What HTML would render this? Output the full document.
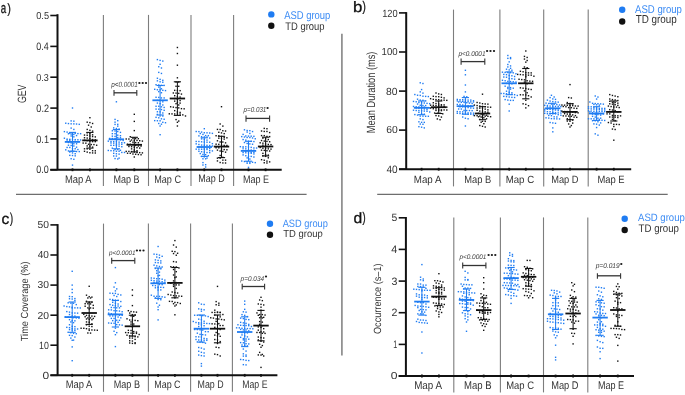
<!DOCTYPE html>
<html><head><meta charset="utf-8"><style>
html,body{margin:0;padding:0;background:#fff;}
svg{display:block;font-family:"Liberation Sans", sans-serif;will-change:transform;text-rendering:geometricPrecision;}
</style></head><body>
<svg width="685" height="395" viewBox="0 0 685 395">
<rect x="0" y="0" width="685" height="395" fill="#fff"/>
<line x1="103.40" y1="14.90" x2="103.40" y2="186.00" stroke="#7d7d7d" stroke-width="1.1"/>
<line x1="148.50" y1="14.90" x2="148.50" y2="186.00" stroke="#7d7d7d" stroke-width="1.1"/>
<line x1="191.00" y1="14.90" x2="191.00" y2="186.00" stroke="#7d7d7d" stroke-width="1.1"/>
<line x1="233.60" y1="14.90" x2="233.60" y2="186.00" stroke="#7d7d7d" stroke-width="1.1"/>
<line x1="57.50" y1="14.20" x2="57.50" y2="169.80" stroke="#111" stroke-width="2"/>
<line x1="50.30" y1="169.80" x2="281.70" y2="169.80" stroke="#111" stroke-width="2"/>
<line x1="50.30" y1="15.50" x2="57.50" y2="15.50" stroke="#111" stroke-width="1.6"/>
<line x1="50.30" y1="46.40" x2="57.50" y2="46.40" stroke="#111" stroke-width="1.6"/>
<line x1="50.30" y1="77.20" x2="57.50" y2="77.20" stroke="#111" stroke-width="1.6"/>
<line x1="50.30" y1="108.10" x2="57.50" y2="108.10" stroke="#111" stroke-width="1.6"/>
<line x1="50.30" y1="138.90" x2="57.50" y2="138.90" stroke="#111" stroke-width="1.6"/>
<line x1="50.30" y1="169.80" x2="57.50" y2="169.80" stroke="#111" stroke-width="1.6"/>
<line x1="72.50" y1="168.40" x2="72.50" y2="171.20" stroke="#111" stroke-width="1.8"/>
<line x1="89.90" y1="168.40" x2="89.90" y2="171.20" stroke="#111" stroke-width="1.8"/>
<line x1="116.40" y1="168.40" x2="116.40" y2="171.20" stroke="#111" stroke-width="1.8"/>
<line x1="134.30" y1="168.40" x2="134.30" y2="171.20" stroke="#111" stroke-width="1.8"/>
<line x1="160.10" y1="168.40" x2="160.10" y2="171.20" stroke="#111" stroke-width="1.8"/>
<line x1="177.40" y1="168.40" x2="177.40" y2="171.20" stroke="#111" stroke-width="1.8"/>
<line x1="204.30" y1="168.40" x2="204.30" y2="171.20" stroke="#111" stroke-width="1.8"/>
<line x1="221.50" y1="168.40" x2="221.50" y2="171.20" stroke="#111" stroke-width="1.8"/>
<line x1="248.50" y1="168.40" x2="248.50" y2="171.20" stroke="#111" stroke-width="1.8"/>
<line x1="265.60" y1="168.40" x2="265.60" y2="171.20" stroke="#111" stroke-width="1.8"/>
<circle cx="271.3" cy="14.4" r="3.2" fill="#1f7cf2"/>
<circle cx="271.3" cy="25.7" r="3.2" fill="#111"/>
<line x1="453.50" y1="9.60" x2="453.50" y2="186.40" stroke="#7d7d7d" stroke-width="1.1"/>
<line x1="499.90" y1="9.60" x2="499.90" y2="186.40" stroke="#7d7d7d" stroke-width="1.1"/>
<line x1="543.70" y1="9.60" x2="543.70" y2="186.40" stroke="#7d7d7d" stroke-width="1.1"/>
<line x1="588.20" y1="9.60" x2="588.20" y2="186.40" stroke="#7d7d7d" stroke-width="1.1"/>
<line x1="406.20" y1="12.10" x2="406.20" y2="169.20" stroke="#111" stroke-width="2"/>
<line x1="399.00" y1="169.20" x2="631.20" y2="169.20" stroke="#111" stroke-width="2"/>
<line x1="399.00" y1="12.90" x2="406.20" y2="12.90" stroke="#111" stroke-width="1.6"/>
<line x1="399.00" y1="52.00" x2="406.20" y2="52.00" stroke="#111" stroke-width="1.6"/>
<line x1="399.00" y1="91.10" x2="406.20" y2="91.10" stroke="#111" stroke-width="1.6"/>
<line x1="399.00" y1="130.10" x2="406.20" y2="130.10" stroke="#111" stroke-width="1.6"/>
<line x1="399.00" y1="169.20" x2="406.20" y2="169.20" stroke="#111" stroke-width="1.6"/>
<line x1="421.60" y1="167.80" x2="421.60" y2="170.60" stroke="#111" stroke-width="1.8"/>
<line x1="438.70" y1="167.80" x2="438.70" y2="170.60" stroke="#111" stroke-width="1.8"/>
<line x1="465.40" y1="167.80" x2="465.40" y2="170.60" stroke="#111" stroke-width="1.8"/>
<line x1="482.50" y1="167.80" x2="482.50" y2="170.60" stroke="#111" stroke-width="1.8"/>
<line x1="509.20" y1="167.80" x2="509.20" y2="170.60" stroke="#111" stroke-width="1.8"/>
<line x1="525.80" y1="167.80" x2="525.80" y2="170.60" stroke="#111" stroke-width="1.8"/>
<line x1="552.80" y1="167.80" x2="552.80" y2="170.60" stroke="#111" stroke-width="1.8"/>
<line x1="570.00" y1="167.80" x2="570.00" y2="170.60" stroke="#111" stroke-width="1.8"/>
<line x1="596.60" y1="167.80" x2="596.60" y2="170.60" stroke="#111" stroke-width="1.8"/>
<line x1="613.80" y1="167.80" x2="613.80" y2="170.60" stroke="#111" stroke-width="1.8"/>
<circle cx="622.2" cy="9.7" r="3.2" fill="#1f7cf2"/>
<circle cx="622.2" cy="21.5" r="3.2" fill="#111"/>
<line x1="103.50" y1="223.60" x2="103.50" y2="391.80" stroke="#7d7d7d" stroke-width="1.1"/>
<line x1="148.40" y1="223.60" x2="148.40" y2="391.80" stroke="#7d7d7d" stroke-width="1.1"/>
<line x1="190.60" y1="223.60" x2="190.60" y2="391.80" stroke="#7d7d7d" stroke-width="1.1"/>
<line x1="232.40" y1="223.60" x2="232.40" y2="391.80" stroke="#7d7d7d" stroke-width="1.1"/>
<line x1="57.60" y1="224.10" x2="57.60" y2="375.30" stroke="#111" stroke-width="2"/>
<line x1="50.40" y1="375.30" x2="277.40" y2="375.30" stroke="#111" stroke-width="2"/>
<line x1="50.40" y1="224.90" x2="57.60" y2="224.90" stroke="#111" stroke-width="1.6"/>
<line x1="50.40" y1="255.00" x2="57.60" y2="255.00" stroke="#111" stroke-width="1.6"/>
<line x1="50.40" y1="285.10" x2="57.60" y2="285.10" stroke="#111" stroke-width="1.6"/>
<line x1="50.40" y1="315.20" x2="57.60" y2="315.20" stroke="#111" stroke-width="1.6"/>
<line x1="50.40" y1="345.20" x2="57.60" y2="345.20" stroke="#111" stroke-width="1.6"/>
<line x1="50.40" y1="375.30" x2="57.60" y2="375.30" stroke="#111" stroke-width="1.6"/>
<line x1="72.20" y1="373.90" x2="72.20" y2="376.70" stroke="#111" stroke-width="1.8"/>
<line x1="89.20" y1="373.90" x2="89.20" y2="376.70" stroke="#111" stroke-width="1.8"/>
<line x1="115.40" y1="373.90" x2="115.40" y2="376.70" stroke="#111" stroke-width="1.8"/>
<line x1="132.40" y1="373.90" x2="132.40" y2="376.70" stroke="#111" stroke-width="1.8"/>
<line x1="158.10" y1="373.90" x2="158.10" y2="376.70" stroke="#111" stroke-width="1.8"/>
<line x1="174.90" y1="373.90" x2="174.90" y2="376.70" stroke="#111" stroke-width="1.8"/>
<line x1="201.40" y1="373.90" x2="201.40" y2="376.70" stroke="#111" stroke-width="1.8"/>
<line x1="217.50" y1="373.90" x2="217.50" y2="376.70" stroke="#111" stroke-width="1.8"/>
<line x1="244.70" y1="373.90" x2="244.70" y2="376.70" stroke="#111" stroke-width="1.8"/>
<line x1="261.00" y1="373.90" x2="261.00" y2="376.70" stroke="#111" stroke-width="1.8"/>
<circle cx="270.0" cy="223.8" r="3.2" fill="#1f7cf2"/>
<circle cx="270.0" cy="234.8" r="3.2" fill="#111"/>
<line x1="453.80" y1="217.40" x2="453.80" y2="392.40" stroke="#7d7d7d" stroke-width="1.1"/>
<line x1="500.40" y1="217.40" x2="500.40" y2="392.40" stroke="#7d7d7d" stroke-width="1.1"/>
<line x1="543.50" y1="217.40" x2="543.50" y2="392.40" stroke="#7d7d7d" stroke-width="1.1"/>
<line x1="587.80" y1="217.40" x2="587.80" y2="392.40" stroke="#7d7d7d" stroke-width="1.1"/>
<line x1="405.90" y1="217.00" x2="405.90" y2="376.00" stroke="#111" stroke-width="2"/>
<line x1="398.70" y1="376.00" x2="634.00" y2="376.00" stroke="#111" stroke-width="2"/>
<line x1="398.70" y1="217.80" x2="405.90" y2="217.80" stroke="#111" stroke-width="1.6"/>
<line x1="398.70" y1="249.40" x2="405.90" y2="249.40" stroke="#111" stroke-width="1.6"/>
<line x1="398.70" y1="281.10" x2="405.90" y2="281.10" stroke="#111" stroke-width="1.6"/>
<line x1="398.70" y1="312.70" x2="405.90" y2="312.70" stroke="#111" stroke-width="1.6"/>
<line x1="398.70" y1="344.40" x2="405.90" y2="344.40" stroke="#111" stroke-width="1.6"/>
<line x1="398.70" y1="376.00" x2="405.90" y2="376.00" stroke="#111" stroke-width="1.6"/>
<line x1="421.90" y1="374.60" x2="421.90" y2="377.40" stroke="#111" stroke-width="1.8"/>
<line x1="438.90" y1="374.60" x2="438.90" y2="377.40" stroke="#111" stroke-width="1.8"/>
<line x1="466.50" y1="374.60" x2="466.50" y2="377.40" stroke="#111" stroke-width="1.8"/>
<line x1="483.70" y1="374.60" x2="483.70" y2="377.40" stroke="#111" stroke-width="1.8"/>
<line x1="511.10" y1="374.60" x2="511.10" y2="377.40" stroke="#111" stroke-width="1.8"/>
<line x1="528.60" y1="374.60" x2="528.60" y2="377.40" stroke="#111" stroke-width="1.8"/>
<line x1="555.60" y1="374.60" x2="555.60" y2="377.40" stroke="#111" stroke-width="1.8"/>
<line x1="573.10" y1="374.60" x2="573.10" y2="377.40" stroke="#111" stroke-width="1.8"/>
<line x1="600.10" y1="374.60" x2="600.10" y2="377.40" stroke="#111" stroke-width="1.8"/>
<line x1="617.80" y1="374.60" x2="617.80" y2="377.40" stroke="#111" stroke-width="1.8"/>
<circle cx="624.7" cy="218.8" r="3.2" fill="#1f7cf2"/>
<circle cx="624.7" cy="230.0" r="3.2" fill="#111"/>
<g fill="#1f7cf2"><rect x="71.80" y="107.30" width="1.4" height="1.4"/><rect x="70.45" y="120.20" width="1.4" height="1.4"/><rect x="73.15" y="120.46" width="1.4" height="1.4"/><rect x="65.05" y="122.52" width="1.4" height="1.4"/><rect x="67.75" y="122.88" width="1.4" height="1.4"/><rect x="70.45" y="123.13" width="1.4" height="1.4"/><rect x="73.15" y="123.19" width="1.4" height="1.4"/><rect x="75.85" y="123.32" width="1.4" height="1.4"/><rect x="78.55" y="123.64" width="1.4" height="1.4"/><rect x="70.45" y="127.40" width="1.4" height="1.4"/><rect x="73.15" y="128.73" width="1.4" height="1.4"/><rect x="63.70" y="130.92" width="1.4" height="1.4"/><rect x="66.40" y="131.41" width="1.4" height="1.4"/><rect x="69.10" y="132.51" width="1.4" height="1.4"/><rect x="71.80" y="132.58" width="1.4" height="1.4"/><rect x="74.50" y="132.68" width="1.4" height="1.4"/><rect x="77.20" y="132.92" width="1.4" height="1.4"/><rect x="79.90" y="132.99" width="1.4" height="1.4"/><rect x="67.75" y="133.07" width="1.4" height="1.4"/><rect x="70.45" y="133.39" width="1.4" height="1.4"/><rect x="73.15" y="133.79" width="1.4" height="1.4"/><rect x="75.85" y="134.88" width="1.4" height="1.4"/><rect x="70.45" y="135.29" width="1.4" height="1.4"/><rect x="73.15" y="136.15" width="1.4" height="1.4"/><rect x="63.70" y="137.52" width="1.4" height="1.4"/><rect x="66.40" y="138.43" width="1.4" height="1.4"/><rect x="69.10" y="138.64" width="1.4" height="1.4"/><rect x="71.80" y="138.64" width="1.4" height="1.4"/><rect x="74.50" y="138.93" width="1.4" height="1.4"/><rect x="77.20" y="139.06" width="1.4" height="1.4"/><rect x="79.90" y="139.27" width="1.4" height="1.4"/><rect x="66.40" y="139.38" width="1.4" height="1.4"/><rect x="69.10" y="139.65" width="1.4" height="1.4"/><rect x="71.80" y="140.60" width="1.4" height="1.4"/><rect x="74.50" y="140.61" width="1.4" height="1.4"/><rect x="77.20" y="140.86" width="1.4" height="1.4"/><rect x="67.75" y="141.81" width="1.4" height="1.4"/><rect x="70.45" y="142.21" width="1.4" height="1.4"/><rect x="73.15" y="143.04" width="1.4" height="1.4"/><rect x="75.85" y="143.07" width="1.4" height="1.4"/><rect x="67.75" y="144.52" width="1.4" height="1.4"/><rect x="70.45" y="144.77" width="1.4" height="1.4"/><rect x="73.15" y="145.29" width="1.4" height="1.4"/><rect x="75.85" y="146.46" width="1.4" height="1.4"/><rect x="66.40" y="146.76" width="1.4" height="1.4"/><rect x="69.10" y="146.77" width="1.4" height="1.4"/><rect x="71.80" y="148.00" width="1.4" height="1.4"/><rect x="74.50" y="148.05" width="1.4" height="1.4"/><rect x="77.20" y="148.84" width="1.4" height="1.4"/><rect x="65.05" y="149.13" width="1.4" height="1.4"/><rect x="67.75" y="150.24" width="1.4" height="1.4"/><rect x="70.45" y="150.45" width="1.4" height="1.4"/><rect x="73.15" y="150.51" width="1.4" height="1.4"/><rect x="75.85" y="150.83" width="1.4" height="1.4"/><rect x="78.55" y="150.87" width="1.4" height="1.4"/><rect x="69.10" y="151.34" width="1.4" height="1.4"/><rect x="71.80" y="152.23" width="1.4" height="1.4"/><rect x="74.50" y="153.03" width="1.4" height="1.4"/><rect x="69.10" y="154.67" width="1.4" height="1.4"/><rect x="71.80" y="154.81" width="1.4" height="1.4"/><rect x="74.50" y="155.13" width="1.4" height="1.4"/><rect x="70.45" y="158.04" width="1.4" height="1.4"/><rect x="73.15" y="158.60" width="1.4" height="1.4"/><rect x="71.80" y="164.40" width="1.4" height="1.4"/></g><g stroke="#1f7cf2"><line x1="64.80" y1="141.90" x2="80.20" y2="141.90" stroke-width="1.8"/><line x1="72.50" y1="132.40" x2="72.50" y2="151.30" stroke-width="1"/><line x1="68.90" y1="132.40" x2="76.10" y2="132.40" stroke-width="1.1"/><line x1="68.90" y1="151.30" x2="76.10" y2="151.30" stroke-width="1.1"/></g>
<g fill="#111"><rect x="89.20" y="117.00" width="1.4" height="1.4"/><rect x="86.50" y="121.47" width="1.4" height="1.4"/><rect x="89.20" y="121.89" width="1.4" height="1.4"/><rect x="91.90" y="122.78" width="1.4" height="1.4"/><rect x="87.85" y="124.50" width="1.4" height="1.4"/><rect x="90.55" y="126.29" width="1.4" height="1.4"/><rect x="86.50" y="128.74" width="1.4" height="1.4"/><rect x="89.20" y="129.59" width="1.4" height="1.4"/><rect x="91.90" y="130.42" width="1.4" height="1.4"/><rect x="86.50" y="132.14" width="1.4" height="1.4"/><rect x="89.20" y="133.05" width="1.4" height="1.4"/><rect x="91.90" y="134.12" width="1.4" height="1.4"/><rect x="83.80" y="134.38" width="1.4" height="1.4"/><rect x="86.50" y="134.55" width="1.4" height="1.4"/><rect x="89.20" y="135.25" width="1.4" height="1.4"/><rect x="91.90" y="135.88" width="1.4" height="1.4"/><rect x="94.60" y="136.20" width="1.4" height="1.4"/><rect x="83.80" y="137.05" width="1.4" height="1.4"/><rect x="86.50" y="137.37" width="1.4" height="1.4"/><rect x="89.20" y="137.82" width="1.4" height="1.4"/><rect x="91.90" y="138.83" width="1.4" height="1.4"/><rect x="94.60" y="139.17" width="1.4" height="1.4"/><rect x="83.80" y="139.57" width="1.4" height="1.4"/><rect x="86.50" y="139.93" width="1.4" height="1.4"/><rect x="89.20" y="140.38" width="1.4" height="1.4"/><rect x="91.90" y="140.93" width="1.4" height="1.4"/><rect x="94.60" y="140.94" width="1.4" height="1.4"/><rect x="82.45" y="142.35" width="1.4" height="1.4"/><rect x="85.15" y="142.46" width="1.4" height="1.4"/><rect x="87.85" y="143.58" width="1.4" height="1.4"/><rect x="90.55" y="143.86" width="1.4" height="1.4"/><rect x="93.25" y="143.89" width="1.4" height="1.4"/><rect x="95.95" y="144.55" width="1.4" height="1.4"/><rect x="86.50" y="145.22" width="1.4" height="1.4"/><rect x="89.20" y="145.41" width="1.4" height="1.4"/><rect x="91.90" y="146.44" width="1.4" height="1.4"/><rect x="83.80" y="148.10" width="1.4" height="1.4"/><rect x="86.50" y="148.16" width="1.4" height="1.4"/><rect x="89.20" y="148.58" width="1.4" height="1.4"/><rect x="91.90" y="150.04" width="1.4" height="1.4"/><rect x="94.60" y="150.10" width="1.4" height="1.4"/><rect x="83.80" y="150.59" width="1.4" height="1.4"/><rect x="86.50" y="151.40" width="1.4" height="1.4"/><rect x="89.20" y="152.05" width="1.4" height="1.4"/><rect x="91.90" y="152.23" width="1.4" height="1.4"/><rect x="94.60" y="152.30" width="1.4" height="1.4"/></g><g stroke="#111"><line x1="82.20" y1="140.40" x2="97.60" y2="140.40" stroke-width="1.8"/><line x1="89.90" y1="132.40" x2="89.90" y2="148.10" stroke-width="1"/><line x1="86.30" y1="132.40" x2="93.50" y2="132.40" stroke-width="1.1"/><line x1="86.30" y1="148.10" x2="93.50" y2="148.10" stroke-width="1.1"/></g>
<g fill="#1f7cf2"><rect x="115.70" y="101.10" width="1.4" height="1.4"/><rect x="114.35" y="118.70" width="1.4" height="1.4"/><rect x="117.05" y="119.99" width="1.4" height="1.4"/><rect x="114.35" y="121.46" width="1.4" height="1.4"/><rect x="117.05" y="123.64" width="1.4" height="1.4"/><rect x="114.35" y="123.73" width="1.4" height="1.4"/><rect x="117.05" y="125.44" width="1.4" height="1.4"/><rect x="113.00" y="127.20" width="1.4" height="1.4"/><rect x="115.70" y="127.81" width="1.4" height="1.4"/><rect x="118.40" y="128.31" width="1.4" height="1.4"/><rect x="111.65" y="130.08" width="1.4" height="1.4"/><rect x="114.35" y="130.28" width="1.4" height="1.4"/><rect x="117.05" y="130.87" width="1.4" height="1.4"/><rect x="119.75" y="131.69" width="1.4" height="1.4"/><rect x="111.65" y="132.98" width="1.4" height="1.4"/><rect x="114.35" y="132.99" width="1.4" height="1.4"/><rect x="117.05" y="134.45" width="1.4" height="1.4"/><rect x="119.75" y="135.00" width="1.4" height="1.4"/><rect x="111.65" y="135.45" width="1.4" height="1.4"/><rect x="114.35" y="135.70" width="1.4" height="1.4"/><rect x="117.05" y="136.84" width="1.4" height="1.4"/><rect x="119.75" y="137.07" width="1.4" height="1.4"/><rect x="108.95" y="137.77" width="1.4" height="1.4"/><rect x="111.65" y="137.84" width="1.4" height="1.4"/><rect x="114.35" y="137.93" width="1.4" height="1.4"/><rect x="117.05" y="138.77" width="1.4" height="1.4"/><rect x="119.75" y="139.20" width="1.4" height="1.4"/><rect x="122.45" y="139.77" width="1.4" height="1.4"/><rect x="107.60" y="140.45" width="1.4" height="1.4"/><rect x="110.30" y="140.87" width="1.4" height="1.4"/><rect x="113.00" y="140.89" width="1.4" height="1.4"/><rect x="115.70" y="141.06" width="1.4" height="1.4"/><rect x="118.40" y="141.42" width="1.4" height="1.4"/><rect x="121.10" y="142.03" width="1.4" height="1.4"/><rect x="123.80" y="142.05" width="1.4" height="1.4"/><rect x="110.30" y="142.29" width="1.4" height="1.4"/><rect x="113.00" y="142.41" width="1.4" height="1.4"/><rect x="115.70" y="143.34" width="1.4" height="1.4"/><rect x="118.40" y="143.34" width="1.4" height="1.4"/><rect x="121.10" y="143.65" width="1.4" height="1.4"/><rect x="110.30" y="144.61" width="1.4" height="1.4"/><rect x="113.00" y="144.62" width="1.4" height="1.4"/><rect x="115.70" y="144.77" width="1.4" height="1.4"/><rect x="118.40" y="145.47" width="1.4" height="1.4"/><rect x="121.10" y="146.02" width="1.4" height="1.4"/><rect x="111.65" y="147.48" width="1.4" height="1.4"/><rect x="114.35" y="148.80" width="1.4" height="1.4"/><rect x="117.05" y="148.84" width="1.4" height="1.4"/><rect x="119.75" y="149.60" width="1.4" height="1.4"/><rect x="107.60" y="149.77" width="1.4" height="1.4"/><rect x="110.30" y="149.98" width="1.4" height="1.4"/><rect x="113.00" y="150.09" width="1.4" height="1.4"/><rect x="115.70" y="150.56" width="1.4" height="1.4"/><rect x="118.40" y="150.56" width="1.4" height="1.4"/><rect x="121.10" y="151.75" width="1.4" height="1.4"/><rect x="123.80" y="151.77" width="1.4" height="1.4"/><rect x="113.00" y="152.61" width="1.4" height="1.4"/><rect x="115.70" y="153.04" width="1.4" height="1.4"/><rect x="118.40" y="153.42" width="1.4" height="1.4"/><rect x="113.00" y="155.29" width="1.4" height="1.4"/><rect x="115.70" y="155.35" width="1.4" height="1.4"/><rect x="118.40" y="157.42" width="1.4" height="1.4"/><rect x="114.35" y="157.86" width="1.4" height="1.4"/><rect x="117.05" y="158.30" width="1.4" height="1.4"/></g><g stroke="#1f7cf2"><line x1="108.70" y1="139.30" x2="124.10" y2="139.30" stroke-width="1.8"/><line x1="116.40" y1="129.60" x2="116.40" y2="148.80" stroke-width="1"/><line x1="112.80" y1="129.60" x2="120.00" y2="129.60" stroke-width="1.1"/><line x1="112.80" y1="148.80" x2="120.00" y2="148.80" stroke-width="1.1"/></g>
<g fill="#111"><rect x="133.60" y="113.60" width="1.4" height="1.4"/><rect x="133.60" y="120.70" width="1.4" height="1.4"/><rect x="133.60" y="129.90" width="1.4" height="1.4"/><rect x="129.55" y="136.00" width="1.4" height="1.4"/><rect x="132.25" y="137.52" width="1.4" height="1.4"/><rect x="134.95" y="137.94" width="1.4" height="1.4"/><rect x="137.65" y="138.00" width="1.4" height="1.4"/><rect x="125.50" y="138.28" width="1.4" height="1.4"/><rect x="128.20" y="138.34" width="1.4" height="1.4"/><rect x="130.90" y="139.30" width="1.4" height="1.4"/><rect x="133.60" y="139.63" width="1.4" height="1.4"/><rect x="136.30" y="139.72" width="1.4" height="1.4"/><rect x="139.00" y="140.01" width="1.4" height="1.4"/><rect x="141.70" y="140.39" width="1.4" height="1.4"/><rect x="129.55" y="140.52" width="1.4" height="1.4"/><rect x="132.25" y="141.48" width="1.4" height="1.4"/><rect x="134.95" y="141.89" width="1.4" height="1.4"/><rect x="137.65" y="142.05" width="1.4" height="1.4"/><rect x="126.85" y="143.49" width="1.4" height="1.4"/><rect x="129.55" y="143.58" width="1.4" height="1.4"/><rect x="132.25" y="143.79" width="1.4" height="1.4"/><rect x="134.95" y="144.77" width="1.4" height="1.4"/><rect x="137.65" y="145.31" width="1.4" height="1.4"/><rect x="140.35" y="145.35" width="1.4" height="1.4"/><rect x="128.20" y="145.82" width="1.4" height="1.4"/><rect x="130.90" y="146.01" width="1.4" height="1.4"/><rect x="133.60" y="146.43" width="1.4" height="1.4"/><rect x="136.30" y="147.00" width="1.4" height="1.4"/><rect x="139.00" y="147.37" width="1.4" height="1.4"/><rect x="130.90" y="148.17" width="1.4" height="1.4"/><rect x="133.60" y="149.31" width="1.4" height="1.4"/><rect x="136.30" y="149.97" width="1.4" height="1.4"/><rect x="125.50" y="150.70" width="1.4" height="1.4"/><rect x="128.20" y="150.70" width="1.4" height="1.4"/><rect x="130.90" y="150.84" width="1.4" height="1.4"/><rect x="133.60" y="151.33" width="1.4" height="1.4"/><rect x="136.30" y="151.77" width="1.4" height="1.4"/><rect x="139.00" y="151.93" width="1.4" height="1.4"/><rect x="141.70" y="152.19" width="1.4" height="1.4"/><rect x="126.85" y="152.55" width="1.4" height="1.4"/><rect x="129.55" y="152.61" width="1.4" height="1.4"/><rect x="132.25" y="153.31" width="1.4" height="1.4"/><rect x="134.95" y="153.56" width="1.4" height="1.4"/><rect x="137.65" y="153.84" width="1.4" height="1.4"/><rect x="140.35" y="154.05" width="1.4" height="1.4"/><rect x="133.60" y="156.30" width="1.4" height="1.4"/></g><g stroke="#111"><line x1="126.60" y1="144.80" x2="142.00" y2="144.80" stroke-width="1.8"/><line x1="134.30" y1="137.30" x2="134.30" y2="151.90" stroke-width="1"/><line x1="130.70" y1="137.30" x2="137.90" y2="137.30" stroke-width="1.1"/><line x1="130.70" y1="151.90" x2="137.90" y2="151.90" stroke-width="1.1"/></g>
<g fill="#1f7cf2"><rect x="156.70" y="58.90" width="1.4" height="1.4"/><rect x="159.40" y="59.71" width="1.4" height="1.4"/><rect x="162.10" y="60.38" width="1.4" height="1.4"/><rect x="159.40" y="63.62" width="1.4" height="1.4"/><rect x="158.05" y="66.03" width="1.4" height="1.4"/><rect x="160.75" y="67.30" width="1.4" height="1.4"/><rect x="158.05" y="71.71" width="1.4" height="1.4"/><rect x="160.75" y="72.74" width="1.4" height="1.4"/><rect x="156.70" y="77.57" width="1.4" height="1.4"/><rect x="159.40" y="78.68" width="1.4" height="1.4"/><rect x="162.10" y="79.61" width="1.4" height="1.4"/><rect x="156.70" y="80.13" width="1.4" height="1.4"/><rect x="159.40" y="81.11" width="1.4" height="1.4"/><rect x="162.10" y="81.55" width="1.4" height="1.4"/><rect x="155.35" y="84.01" width="1.4" height="1.4"/><rect x="158.05" y="84.29" width="1.4" height="1.4"/><rect x="160.75" y="84.64" width="1.4" height="1.4"/><rect x="163.45" y="84.71" width="1.4" height="1.4"/><rect x="158.05" y="86.38" width="1.4" height="1.4"/><rect x="160.75" y="88.10" width="1.4" height="1.4"/><rect x="154.00" y="88.60" width="1.4" height="1.4"/><rect x="156.70" y="89.07" width="1.4" height="1.4"/><rect x="159.40" y="89.20" width="1.4" height="1.4"/><rect x="162.10" y="89.61" width="1.4" height="1.4"/><rect x="164.80" y="89.90" width="1.4" height="1.4"/><rect x="158.05" y="90.94" width="1.4" height="1.4"/><rect x="160.75" y="92.02" width="1.4" height="1.4"/><rect x="155.35" y="96.58" width="1.4" height="1.4"/><rect x="158.05" y="96.72" width="1.4" height="1.4"/><rect x="160.75" y="97.22" width="1.4" height="1.4"/><rect x="163.45" y="97.24" width="1.4" height="1.4"/><rect x="156.70" y="99.67" width="1.4" height="1.4"/><rect x="159.40" y="99.86" width="1.4" height="1.4"/><rect x="162.10" y="101.12" width="1.4" height="1.4"/><rect x="156.70" y="102.35" width="1.4" height="1.4"/><rect x="159.40" y="102.96" width="1.4" height="1.4"/><rect x="162.10" y="104.31" width="1.4" height="1.4"/><rect x="155.35" y="105.57" width="1.4" height="1.4"/><rect x="158.05" y="105.57" width="1.4" height="1.4"/><rect x="160.75" y="106.13" width="1.4" height="1.4"/><rect x="163.45" y="106.76" width="1.4" height="1.4"/><rect x="155.35" y="108.38" width="1.4" height="1.4"/><rect x="158.05" y="108.47" width="1.4" height="1.4"/><rect x="160.75" y="108.85" width="1.4" height="1.4"/><rect x="163.45" y="109.61" width="1.4" height="1.4"/><rect x="156.70" y="111.07" width="1.4" height="1.4"/><rect x="159.40" y="111.17" width="1.4" height="1.4"/><rect x="162.10" y="112.28" width="1.4" height="1.4"/><rect x="156.70" y="113.71" width="1.4" height="1.4"/><rect x="159.40" y="115.25" width="1.4" height="1.4"/><rect x="162.10" y="115.31" width="1.4" height="1.4"/><rect x="155.35" y="116.63" width="1.4" height="1.4"/><rect x="158.05" y="117.10" width="1.4" height="1.4"/><rect x="160.75" y="118.14" width="1.4" height="1.4"/><rect x="163.45" y="118.56" width="1.4" height="1.4"/><rect x="154.00" y="119.93" width="1.4" height="1.4"/><rect x="156.70" y="120.05" width="1.4" height="1.4"/><rect x="159.40" y="120.12" width="1.4" height="1.4"/><rect x="162.10" y="121.59" width="1.4" height="1.4"/><rect x="164.80" y="122.03" width="1.4" height="1.4"/><rect x="158.05" y="122.79" width="1.4" height="1.4"/><rect x="160.75" y="123.49" width="1.4" height="1.4"/><rect x="159.40" y="125.30" width="1.4" height="1.4"/><rect x="159.40" y="134.00" width="1.4" height="1.4"/></g><g stroke="#1f7cf2"><line x1="152.40" y1="100.30" x2="167.80" y2="100.30" stroke-width="1.8"/><line x1="160.10" y1="85.50" x2="160.10" y2="115.00" stroke-width="1"/><line x1="156.50" y1="85.50" x2="163.70" y2="85.50" stroke-width="1.1"/><line x1="156.50" y1="115.00" x2="163.70" y2="115.00" stroke-width="1.1"/></g>
<g fill="#111"><rect x="176.70" y="46.80" width="1.4" height="1.4"/><rect x="176.70" y="52.80" width="1.4" height="1.4"/><rect x="176.70" y="64.50" width="1.4" height="1.4"/><rect x="176.70" y="77.10" width="1.4" height="1.4"/><rect x="175.35" y="81.30" width="1.4" height="1.4"/><rect x="178.05" y="81.32" width="1.4" height="1.4"/><rect x="175.35" y="85.57" width="1.4" height="1.4"/><rect x="178.05" y="85.60" width="1.4" height="1.4"/><rect x="174.00" y="89.65" width="1.4" height="1.4"/><rect x="176.70" y="89.81" width="1.4" height="1.4"/><rect x="179.40" y="89.96" width="1.4" height="1.4"/><rect x="172.65" y="92.27" width="1.4" height="1.4"/><rect x="175.35" y="92.42" width="1.4" height="1.4"/><rect x="178.05" y="92.69" width="1.4" height="1.4"/><rect x="180.75" y="93.38" width="1.4" height="1.4"/><rect x="174.00" y="95.01" width="1.4" height="1.4"/><rect x="176.70" y="95.92" width="1.4" height="1.4"/><rect x="179.40" y="96.38" width="1.4" height="1.4"/><rect x="174.00" y="97.86" width="1.4" height="1.4"/><rect x="176.70" y="98.99" width="1.4" height="1.4"/><rect x="179.40" y="99.91" width="1.4" height="1.4"/><rect x="174.00" y="100.44" width="1.4" height="1.4"/><rect x="176.70" y="101.53" width="1.4" height="1.4"/><rect x="179.40" y="102.41" width="1.4" height="1.4"/><rect x="175.35" y="102.98" width="1.4" height="1.4"/><rect x="178.05" y="104.29" width="1.4" height="1.4"/><rect x="169.95" y="106.08" width="1.4" height="1.4"/><rect x="172.65" y="106.46" width="1.4" height="1.4"/><rect x="175.35" y="106.89" width="1.4" height="1.4"/><rect x="178.05" y="107.19" width="1.4" height="1.4"/><rect x="180.75" y="107.96" width="1.4" height="1.4"/><rect x="183.45" y="108.11" width="1.4" height="1.4"/><rect x="174.00" y="109.96" width="1.4" height="1.4"/><rect x="176.70" y="111.27" width="1.4" height="1.4"/><rect x="179.40" y="111.73" width="1.4" height="1.4"/><rect x="168.60" y="113.13" width="1.4" height="1.4"/><rect x="171.30" y="113.20" width="1.4" height="1.4"/><rect x="174.00" y="113.27" width="1.4" height="1.4"/><rect x="176.70" y="113.34" width="1.4" height="1.4"/><rect x="179.40" y="113.36" width="1.4" height="1.4"/><rect x="182.10" y="114.17" width="1.4" height="1.4"/><rect x="184.80" y="115.29" width="1.4" height="1.4"/><rect x="175.35" y="118.90" width="1.4" height="1.4"/><rect x="178.05" y="120.34" width="1.4" height="1.4"/><rect x="176.70" y="121.59" width="1.4" height="1.4"/><rect x="176.70" y="125.30" width="1.4" height="1.4"/></g><g stroke="#111"><line x1="169.70" y1="98.50" x2="185.10" y2="98.50" stroke-width="1.8"/><line x1="177.40" y1="81.80" x2="177.40" y2="115.40" stroke-width="1"/><line x1="173.80" y1="81.80" x2="181.00" y2="81.80" stroke-width="1.1"/><line x1="173.80" y1="115.40" x2="181.00" y2="115.40" stroke-width="1.1"/></g>
<g fill="#1f7cf2"><rect x="203.60" y="128.00" width="1.4" height="1.4"/><rect x="195.50" y="130.82" width="1.4" height="1.4"/><rect x="198.20" y="130.93" width="1.4" height="1.4"/><rect x="200.90" y="131.38" width="1.4" height="1.4"/><rect x="203.60" y="132.04" width="1.4" height="1.4"/><rect x="206.30" y="132.12" width="1.4" height="1.4"/><rect x="209.00" y="132.30" width="1.4" height="1.4"/><rect x="211.70" y="132.67" width="1.4" height="1.4"/><rect x="199.55" y="132.81" width="1.4" height="1.4"/><rect x="202.25" y="133.71" width="1.4" height="1.4"/><rect x="204.95" y="134.91" width="1.4" height="1.4"/><rect x="207.65" y="134.93" width="1.4" height="1.4"/><rect x="198.20" y="135.17" width="1.4" height="1.4"/><rect x="200.90" y="135.99" width="1.4" height="1.4"/><rect x="203.60" y="136.24" width="1.4" height="1.4"/><rect x="206.30" y="136.28" width="1.4" height="1.4"/><rect x="209.00" y="137.34" width="1.4" height="1.4"/><rect x="200.90" y="138.20" width="1.4" height="1.4"/><rect x="203.60" y="138.77" width="1.4" height="1.4"/><rect x="206.30" y="139.43" width="1.4" height="1.4"/><rect x="195.50" y="140.76" width="1.4" height="1.4"/><rect x="198.20" y="140.81" width="1.4" height="1.4"/><rect x="200.90" y="141.10" width="1.4" height="1.4"/><rect x="203.60" y="141.35" width="1.4" height="1.4"/><rect x="206.30" y="141.50" width="1.4" height="1.4"/><rect x="209.00" y="141.52" width="1.4" height="1.4"/><rect x="211.70" y="142.95" width="1.4" height="1.4"/><rect x="195.50" y="143.14" width="1.4" height="1.4"/><rect x="198.20" y="143.79" width="1.4" height="1.4"/><rect x="200.90" y="144.36" width="1.4" height="1.4"/><rect x="203.60" y="144.53" width="1.4" height="1.4"/><rect x="206.30" y="144.62" width="1.4" height="1.4"/><rect x="209.00" y="144.78" width="1.4" height="1.4"/><rect x="211.70" y="145.29" width="1.4" height="1.4"/><rect x="198.20" y="146.23" width="1.4" height="1.4"/><rect x="200.90" y="146.71" width="1.4" height="1.4"/><rect x="203.60" y="147.18" width="1.4" height="1.4"/><rect x="206.30" y="147.46" width="1.4" height="1.4"/><rect x="209.00" y="147.77" width="1.4" height="1.4"/><rect x="195.50" y="148.45" width="1.4" height="1.4"/><rect x="198.20" y="148.48" width="1.4" height="1.4"/><rect x="200.90" y="148.55" width="1.4" height="1.4"/><rect x="203.60" y="148.67" width="1.4" height="1.4"/><rect x="206.30" y="148.78" width="1.4" height="1.4"/><rect x="209.00" y="149.92" width="1.4" height="1.4"/><rect x="211.70" y="150.23" width="1.4" height="1.4"/><rect x="198.20" y="150.57" width="1.4" height="1.4"/><rect x="200.90" y="151.06" width="1.4" height="1.4"/><rect x="203.60" y="151.41" width="1.4" height="1.4"/><rect x="206.30" y="151.84" width="1.4" height="1.4"/><rect x="209.00" y="151.95" width="1.4" height="1.4"/><rect x="199.55" y="152.87" width="1.4" height="1.4"/><rect x="202.25" y="153.74" width="1.4" height="1.4"/><rect x="204.95" y="153.98" width="1.4" height="1.4"/><rect x="207.65" y="154.98" width="1.4" height="1.4"/><rect x="200.90" y="155.75" width="1.4" height="1.4"/><rect x="203.60" y="156.15" width="1.4" height="1.4"/><rect x="206.30" y="157.39" width="1.4" height="1.4"/><rect x="202.25" y="158.10" width="1.4" height="1.4"/><rect x="204.95" y="158.12" width="1.4" height="1.4"/><rect x="202.25" y="161.91" width="1.4" height="1.4"/><rect x="204.95" y="163.99" width="1.4" height="1.4"/><rect x="202.25" y="164.32" width="1.4" height="1.4"/><rect x="204.95" y="166.30" width="1.4" height="1.4"/></g><g stroke="#1f7cf2"><line x1="196.60" y1="147.00" x2="212.00" y2="147.00" stroke-width="1.8"/><line x1="204.30" y1="137.80" x2="204.30" y2="156.40" stroke-width="1"/><line x1="200.70" y1="137.80" x2="207.90" y2="137.80" stroke-width="1.1"/><line x1="200.70" y1="156.40" x2="207.90" y2="156.40" stroke-width="1.1"/></g>
<g fill="#111"><rect x="220.80" y="106.00" width="1.4" height="1.4"/><rect x="219.45" y="123.30" width="1.4" height="1.4"/><rect x="222.15" y="125.39" width="1.4" height="1.4"/><rect x="216.75" y="128.70" width="1.4" height="1.4"/><rect x="219.45" y="128.78" width="1.4" height="1.4"/><rect x="222.15" y="130.05" width="1.4" height="1.4"/><rect x="224.85" y="130.30" width="1.4" height="1.4"/><rect x="218.10" y="131.58" width="1.4" height="1.4"/><rect x="220.80" y="132.20" width="1.4" height="1.4"/><rect x="223.50" y="132.94" width="1.4" height="1.4"/><rect x="215.40" y="135.05" width="1.4" height="1.4"/><rect x="218.10" y="135.11" width="1.4" height="1.4"/><rect x="220.80" y="135.71" width="1.4" height="1.4"/><rect x="223.50" y="136.62" width="1.4" height="1.4"/><rect x="226.20" y="137.10" width="1.4" height="1.4"/><rect x="218.10" y="137.48" width="1.4" height="1.4"/><rect x="220.80" y="137.76" width="1.4" height="1.4"/><rect x="223.50" y="138.40" width="1.4" height="1.4"/><rect x="216.75" y="140.09" width="1.4" height="1.4"/><rect x="219.45" y="141.27" width="1.4" height="1.4"/><rect x="222.15" y="141.33" width="1.4" height="1.4"/><rect x="224.85" y="142.17" width="1.4" height="1.4"/><rect x="215.40" y="143.49" width="1.4" height="1.4"/><rect x="218.10" y="143.66" width="1.4" height="1.4"/><rect x="220.80" y="144.51" width="1.4" height="1.4"/><rect x="223.50" y="144.69" width="1.4" height="1.4"/><rect x="226.20" y="144.76" width="1.4" height="1.4"/><rect x="215.40" y="147.06" width="1.4" height="1.4"/><rect x="218.10" y="147.13" width="1.4" height="1.4"/><rect x="220.80" y="148.23" width="1.4" height="1.4"/><rect x="223.50" y="148.86" width="1.4" height="1.4"/><rect x="226.20" y="149.09" width="1.4" height="1.4"/><rect x="216.75" y="149.41" width="1.4" height="1.4"/><rect x="219.45" y="150.31" width="1.4" height="1.4"/><rect x="222.15" y="150.72" width="1.4" height="1.4"/><rect x="224.85" y="151.45" width="1.4" height="1.4"/><rect x="219.45" y="154.78" width="1.4" height="1.4"/><rect x="222.15" y="156.65" width="1.4" height="1.4"/><rect x="216.75" y="157.47" width="1.4" height="1.4"/><rect x="219.45" y="157.50" width="1.4" height="1.4"/><rect x="222.15" y="159.43" width="1.4" height="1.4"/><rect x="224.85" y="159.44" width="1.4" height="1.4"/><rect x="216.75" y="160.23" width="1.4" height="1.4"/><rect x="219.45" y="161.80" width="1.4" height="1.4"/><rect x="222.15" y="162.25" width="1.4" height="1.4"/><rect x="224.85" y="162.30" width="1.4" height="1.4"/></g><g stroke="#111"><line x1="213.80" y1="146.60" x2="229.20" y2="146.60" stroke-width="1.8"/><line x1="221.50" y1="136.30" x2="221.50" y2="157.60" stroke-width="1"/><line x1="217.90" y1="136.30" x2="225.10" y2="136.30" stroke-width="1.1"/><line x1="217.90" y1="157.60" x2="225.10" y2="157.60" stroke-width="1.1"/></g>
<g fill="#1f7cf2"><rect x="243.75" y="129.10" width="1.4" height="1.4"/><rect x="246.45" y="129.80" width="1.4" height="1.4"/><rect x="249.15" y="129.98" width="1.4" height="1.4"/><rect x="251.85" y="130.86" width="1.4" height="1.4"/><rect x="246.45" y="131.38" width="1.4" height="1.4"/><rect x="249.15" y="132.74" width="1.4" height="1.4"/><rect x="242.40" y="133.69" width="1.4" height="1.4"/><rect x="245.10" y="135.25" width="1.4" height="1.4"/><rect x="247.80" y="135.39" width="1.4" height="1.4"/><rect x="250.50" y="135.47" width="1.4" height="1.4"/><rect x="253.20" y="135.62" width="1.4" height="1.4"/><rect x="241.05" y="135.92" width="1.4" height="1.4"/><rect x="243.75" y="136.34" width="1.4" height="1.4"/><rect x="246.45" y="136.80" width="1.4" height="1.4"/><rect x="249.15" y="136.85" width="1.4" height="1.4"/><rect x="251.85" y="137.28" width="1.4" height="1.4"/><rect x="254.55" y="138.06" width="1.4" height="1.4"/><rect x="242.40" y="138.84" width="1.4" height="1.4"/><rect x="245.10" y="139.45" width="1.4" height="1.4"/><rect x="247.80" y="140.47" width="1.4" height="1.4"/><rect x="250.50" y="140.60" width="1.4" height="1.4"/><rect x="253.20" y="140.85" width="1.4" height="1.4"/><rect x="243.75" y="141.82" width="1.4" height="1.4"/><rect x="246.45" y="142.77" width="1.4" height="1.4"/><rect x="249.15" y="143.23" width="1.4" height="1.4"/><rect x="251.85" y="143.54" width="1.4" height="1.4"/><rect x="239.70" y="145.97" width="1.4" height="1.4"/><rect x="242.40" y="146.13" width="1.4" height="1.4"/><rect x="245.10" y="146.14" width="1.4" height="1.4"/><rect x="247.80" y="146.27" width="1.4" height="1.4"/><rect x="250.50" y="146.67" width="1.4" height="1.4"/><rect x="253.20" y="147.29" width="1.4" height="1.4"/><rect x="255.90" y="147.33" width="1.4" height="1.4"/><rect x="242.40" y="147.41" width="1.4" height="1.4"/><rect x="245.10" y="148.16" width="1.4" height="1.4"/><rect x="247.80" y="149.24" width="1.4" height="1.4"/><rect x="250.50" y="149.37" width="1.4" height="1.4"/><rect x="253.20" y="149.54" width="1.4" height="1.4"/><rect x="242.40" y="149.63" width="1.4" height="1.4"/><rect x="245.10" y="150.53" width="1.4" height="1.4"/><rect x="247.80" y="150.92" width="1.4" height="1.4"/><rect x="250.50" y="151.58" width="1.4" height="1.4"/><rect x="253.20" y="151.61" width="1.4" height="1.4"/><rect x="242.40" y="151.90" width="1.4" height="1.4"/><rect x="245.10" y="152.07" width="1.4" height="1.4"/><rect x="247.80" y="152.40" width="1.4" height="1.4"/><rect x="250.50" y="152.61" width="1.4" height="1.4"/><rect x="253.20" y="153.22" width="1.4" height="1.4"/><rect x="242.40" y="154.22" width="1.4" height="1.4"/><rect x="245.10" y="155.05" width="1.4" height="1.4"/><rect x="247.80" y="155.69" width="1.4" height="1.4"/><rect x="250.50" y="155.71" width="1.4" height="1.4"/><rect x="253.20" y="156.32" width="1.4" height="1.4"/><rect x="246.45" y="157.19" width="1.4" height="1.4"/><rect x="249.15" y="158.33" width="1.4" height="1.4"/><rect x="241.05" y="160.34" width="1.4" height="1.4"/><rect x="243.75" y="160.83" width="1.4" height="1.4"/><rect x="246.45" y="161.10" width="1.4" height="1.4"/><rect x="249.15" y="161.46" width="1.4" height="1.4"/><rect x="251.85" y="161.58" width="1.4" height="1.4"/><rect x="254.55" y="161.92" width="1.4" height="1.4"/><rect x="246.45" y="162.54" width="1.4" height="1.4"/><rect x="249.15" y="162.67" width="1.4" height="1.4"/><rect x="247.80" y="166.70" width="1.4" height="1.4"/></g><g stroke="#1f7cf2"><line x1="240.80" y1="150.90" x2="256.20" y2="150.90" stroke-width="1.8"/><line x1="248.50" y1="141.30" x2="248.50" y2="161.20" stroke-width="1"/><line x1="244.90" y1="141.30" x2="252.10" y2="141.30" stroke-width="1.1"/><line x1="244.90" y1="161.20" x2="252.10" y2="161.20" stroke-width="1.1"/></g>
<g fill="#111"><rect x="263.55" y="127.70" width="1.4" height="1.4"/><rect x="266.25" y="128.03" width="1.4" height="1.4"/><rect x="260.85" y="130.31" width="1.4" height="1.4"/><rect x="263.55" y="130.74" width="1.4" height="1.4"/><rect x="266.25" y="130.76" width="1.4" height="1.4"/><rect x="268.95" y="131.87" width="1.4" height="1.4"/><rect x="260.85" y="134.88" width="1.4" height="1.4"/><rect x="263.55" y="134.92" width="1.4" height="1.4"/><rect x="266.25" y="135.77" width="1.4" height="1.4"/><rect x="268.95" y="135.90" width="1.4" height="1.4"/><rect x="262.20" y="137.47" width="1.4" height="1.4"/><rect x="264.90" y="138.05" width="1.4" height="1.4"/><rect x="267.60" y="138.84" width="1.4" height="1.4"/><rect x="260.85" y="139.83" width="1.4" height="1.4"/><rect x="263.55" y="140.38" width="1.4" height="1.4"/><rect x="266.25" y="140.70" width="1.4" height="1.4"/><rect x="268.95" y="141.07" width="1.4" height="1.4"/><rect x="259.50" y="142.10" width="1.4" height="1.4"/><rect x="262.20" y="142.51" width="1.4" height="1.4"/><rect x="264.90" y="143.32" width="1.4" height="1.4"/><rect x="267.60" y="143.73" width="1.4" height="1.4"/><rect x="270.30" y="143.91" width="1.4" height="1.4"/><rect x="262.20" y="144.44" width="1.4" height="1.4"/><rect x="264.90" y="145.45" width="1.4" height="1.4"/><rect x="267.60" y="146.05" width="1.4" height="1.4"/><rect x="259.50" y="146.77" width="1.4" height="1.4"/><rect x="262.20" y="147.51" width="1.4" height="1.4"/><rect x="264.90" y="147.67" width="1.4" height="1.4"/><rect x="267.60" y="148.15" width="1.4" height="1.4"/><rect x="270.30" y="148.41" width="1.4" height="1.4"/><rect x="260.85" y="149.46" width="1.4" height="1.4"/><rect x="263.55" y="149.68" width="1.4" height="1.4"/><rect x="266.25" y="150.03" width="1.4" height="1.4"/><rect x="268.95" y="150.33" width="1.4" height="1.4"/><rect x="262.20" y="152.66" width="1.4" height="1.4"/><rect x="264.90" y="154.07" width="1.4" height="1.4"/><rect x="267.60" y="154.41" width="1.4" height="1.4"/><rect x="262.20" y="155.10" width="1.4" height="1.4"/><rect x="264.90" y="155.67" width="1.4" height="1.4"/><rect x="267.60" y="157.11" width="1.4" height="1.4"/><rect x="260.85" y="158.98" width="1.4" height="1.4"/><rect x="263.55" y="159.56" width="1.4" height="1.4"/><rect x="266.25" y="160.43" width="1.4" height="1.4"/><rect x="268.95" y="161.18" width="1.4" height="1.4"/><rect x="263.55" y="162.07" width="1.4" height="1.4"/><rect x="266.25" y="162.30" width="1.4" height="1.4"/></g><g stroke="#111"><line x1="257.90" y1="146.50" x2="273.30" y2="146.50" stroke-width="1.8"/><line x1="265.60" y1="137.20" x2="265.60" y2="155.90" stroke-width="1"/><line x1="262.00" y1="137.20" x2="269.20" y2="137.20" stroke-width="1.1"/><line x1="262.00" y1="155.90" x2="269.20" y2="155.90" stroke-width="1.1"/></g>
<g fill="#1f7cf2"><rect x="419.55" y="82.10" width="1.4" height="1.4"/><rect x="422.25" y="82.82" width="1.4" height="1.4"/><rect x="420.90" y="88.86" width="1.4" height="1.4"/><rect x="419.55" y="91.18" width="1.4" height="1.4"/><rect x="422.25" y="92.41" width="1.4" height="1.4"/><rect x="414.15" y="93.83" width="1.4" height="1.4"/><rect x="416.85" y="94.54" width="1.4" height="1.4"/><rect x="419.55" y="94.71" width="1.4" height="1.4"/><rect x="422.25" y="95.51" width="1.4" height="1.4"/><rect x="424.95" y="95.69" width="1.4" height="1.4"/><rect x="427.65" y="95.87" width="1.4" height="1.4"/><rect x="416.85" y="98.50" width="1.4" height="1.4"/><rect x="419.55" y="99.40" width="1.4" height="1.4"/><rect x="422.25" y="99.58" width="1.4" height="1.4"/><rect x="424.95" y="100.17" width="1.4" height="1.4"/><rect x="412.80" y="100.74" width="1.4" height="1.4"/><rect x="415.50" y="101.08" width="1.4" height="1.4"/><rect x="418.20" y="101.81" width="1.4" height="1.4"/><rect x="420.90" y="102.03" width="1.4" height="1.4"/><rect x="423.60" y="102.30" width="1.4" height="1.4"/><rect x="426.30" y="102.65" width="1.4" height="1.4"/><rect x="429.00" y="102.94" width="1.4" height="1.4"/><rect x="416.85" y="103.35" width="1.4" height="1.4"/><rect x="419.55" y="104.57" width="1.4" height="1.4"/><rect x="422.25" y="104.81" width="1.4" height="1.4"/><rect x="424.95" y="104.88" width="1.4" height="1.4"/><rect x="412.80" y="105.75" width="1.4" height="1.4"/><rect x="415.50" y="106.11" width="1.4" height="1.4"/><rect x="418.20" y="106.25" width="1.4" height="1.4"/><rect x="420.90" y="106.29" width="1.4" height="1.4"/><rect x="423.60" y="106.38" width="1.4" height="1.4"/><rect x="426.30" y="107.01" width="1.4" height="1.4"/><rect x="429.00" y="107.18" width="1.4" height="1.4"/><rect x="415.50" y="107.27" width="1.4" height="1.4"/><rect x="418.20" y="107.42" width="1.4" height="1.4"/><rect x="420.90" y="107.62" width="1.4" height="1.4"/><rect x="423.60" y="108.29" width="1.4" height="1.4"/><rect x="426.30" y="108.88" width="1.4" height="1.4"/><rect x="412.80" y="109.50" width="1.4" height="1.4"/><rect x="415.50" y="109.81" width="1.4" height="1.4"/><rect x="418.20" y="109.82" width="1.4" height="1.4"/><rect x="420.90" y="110.05" width="1.4" height="1.4"/><rect x="423.60" y="110.36" width="1.4" height="1.4"/><rect x="426.30" y="110.56" width="1.4" height="1.4"/><rect x="429.00" y="111.28" width="1.4" height="1.4"/><rect x="418.20" y="111.63" width="1.4" height="1.4"/><rect x="420.90" y="113.13" width="1.4" height="1.4"/><rect x="423.60" y="113.47" width="1.4" height="1.4"/><rect x="414.15" y="113.88" width="1.4" height="1.4"/><rect x="416.85" y="114.38" width="1.4" height="1.4"/><rect x="419.55" y="115.36" width="1.4" height="1.4"/><rect x="422.25" y="115.43" width="1.4" height="1.4"/><rect x="424.95" y="115.57" width="1.4" height="1.4"/><rect x="427.65" y="115.60" width="1.4" height="1.4"/><rect x="419.55" y="118.16" width="1.4" height="1.4"/><rect x="422.25" y="118.88" width="1.4" height="1.4"/><rect x="418.20" y="121.11" width="1.4" height="1.4"/><rect x="420.90" y="121.62" width="1.4" height="1.4"/><rect x="423.60" y="121.68" width="1.4" height="1.4"/><rect x="419.55" y="123.35" width="1.4" height="1.4"/><rect x="422.25" y="123.59" width="1.4" height="1.4"/><rect x="418.20" y="125.98" width="1.4" height="1.4"/><rect x="420.90" y="126.49" width="1.4" height="1.4"/><rect x="423.60" y="127.20" width="1.4" height="1.4"/></g><g stroke="#1f7cf2"><line x1="413.90" y1="107.80" x2="429.30" y2="107.80" stroke-width="1.8"/><line x1="421.60" y1="101.00" x2="421.60" y2="114.70" stroke-width="1"/><line x1="418.00" y1="101.00" x2="425.20" y2="101.00" stroke-width="1.1"/><line x1="418.00" y1="114.70" x2="425.20" y2="114.70" stroke-width="1.1"/></g>
<g fill="#111"><rect x="435.30" y="92.30" width="1.4" height="1.4"/><rect x="438.00" y="93.21" width="1.4" height="1.4"/><rect x="440.70" y="93.76" width="1.4" height="1.4"/><rect x="432.60" y="95.59" width="1.4" height="1.4"/><rect x="435.30" y="95.93" width="1.4" height="1.4"/><rect x="438.00" y="96.02" width="1.4" height="1.4"/><rect x="440.70" y="96.60" width="1.4" height="1.4"/><rect x="443.40" y="97.22" width="1.4" height="1.4"/><rect x="429.90" y="97.96" width="1.4" height="1.4"/><rect x="432.60" y="98.65" width="1.4" height="1.4"/><rect x="435.30" y="98.87" width="1.4" height="1.4"/><rect x="438.00" y="98.95" width="1.4" height="1.4"/><rect x="440.70" y="99.42" width="1.4" height="1.4"/><rect x="443.40" y="99.45" width="1.4" height="1.4"/><rect x="446.10" y="99.66" width="1.4" height="1.4"/><rect x="432.60" y="102.04" width="1.4" height="1.4"/><rect x="435.30" y="102.83" width="1.4" height="1.4"/><rect x="438.00" y="103.31" width="1.4" height="1.4"/><rect x="440.70" y="104.03" width="1.4" height="1.4"/><rect x="443.40" y="104.21" width="1.4" height="1.4"/><rect x="429.90" y="104.51" width="1.4" height="1.4"/><rect x="432.60" y="104.58" width="1.4" height="1.4"/><rect x="435.30" y="104.84" width="1.4" height="1.4"/><rect x="438.00" y="104.92" width="1.4" height="1.4"/><rect x="440.70" y="105.23" width="1.4" height="1.4"/><rect x="443.40" y="105.89" width="1.4" height="1.4"/><rect x="446.10" y="106.46" width="1.4" height="1.4"/><rect x="429.90" y="107.34" width="1.4" height="1.4"/><rect x="432.60" y="108.02" width="1.4" height="1.4"/><rect x="435.30" y="108.12" width="1.4" height="1.4"/><rect x="438.00" y="108.49" width="1.4" height="1.4"/><rect x="440.70" y="109.16" width="1.4" height="1.4"/><rect x="443.40" y="109.23" width="1.4" height="1.4"/><rect x="446.10" y="109.33" width="1.4" height="1.4"/><rect x="435.30" y="109.72" width="1.4" height="1.4"/><rect x="438.00" y="109.80" width="1.4" height="1.4"/><rect x="440.70" y="109.92" width="1.4" height="1.4"/><rect x="433.95" y="112.34" width="1.4" height="1.4"/><rect x="436.65" y="112.46" width="1.4" height="1.4"/><rect x="439.35" y="112.54" width="1.4" height="1.4"/><rect x="442.05" y="113.12" width="1.4" height="1.4"/><rect x="435.30" y="114.93" width="1.4" height="1.4"/><rect x="438.00" y="115.22" width="1.4" height="1.4"/><rect x="440.70" y="116.37" width="1.4" height="1.4"/><rect x="436.65" y="118.24" width="1.4" height="1.4"/><rect x="439.35" y="119.00" width="1.4" height="1.4"/></g><g stroke="#111"><line x1="431.00" y1="107.20" x2="446.40" y2="107.20" stroke-width="1.8"/><line x1="438.70" y1="101.00" x2="438.70" y2="113.50" stroke-width="1"/><line x1="435.10" y1="101.00" x2="442.30" y2="101.00" stroke-width="1.1"/><line x1="435.10" y1="113.50" x2="442.30" y2="113.50" stroke-width="1.1"/></g>
<g fill="#1f7cf2"><rect x="464.70" y="69.60" width="1.4" height="1.4"/><rect x="464.70" y="74.10" width="1.4" height="1.4"/><rect x="464.70" y="84.30" width="1.4" height="1.4"/><rect x="464.70" y="91.20" width="1.4" height="1.4"/><rect x="463.35" y="95.70" width="1.4" height="1.4"/><rect x="466.05" y="96.11" width="1.4" height="1.4"/><rect x="456.60" y="98.71" width="1.4" height="1.4"/><rect x="459.30" y="99.00" width="1.4" height="1.4"/><rect x="462.00" y="99.02" width="1.4" height="1.4"/><rect x="464.70" y="99.11" width="1.4" height="1.4"/><rect x="467.40" y="99.37" width="1.4" height="1.4"/><rect x="470.10" y="99.38" width="1.4" height="1.4"/><rect x="472.80" y="100.02" width="1.4" height="1.4"/><rect x="456.60" y="100.22" width="1.4" height="1.4"/><rect x="459.30" y="100.40" width="1.4" height="1.4"/><rect x="462.00" y="100.57" width="1.4" height="1.4"/><rect x="464.70" y="100.80" width="1.4" height="1.4"/><rect x="467.40" y="101.04" width="1.4" height="1.4"/><rect x="470.10" y="101.15" width="1.4" height="1.4"/><rect x="472.80" y="101.24" width="1.4" height="1.4"/><rect x="457.95" y="101.25" width="1.4" height="1.4"/><rect x="460.65" y="101.60" width="1.4" height="1.4"/><rect x="463.35" y="101.67" width="1.4" height="1.4"/><rect x="466.05" y="102.05" width="1.4" height="1.4"/><rect x="468.75" y="102.42" width="1.4" height="1.4"/><rect x="471.45" y="102.79" width="1.4" height="1.4"/><rect x="456.60" y="103.75" width="1.4" height="1.4"/><rect x="459.30" y="103.79" width="1.4" height="1.4"/><rect x="462.00" y="104.34" width="1.4" height="1.4"/><rect x="464.70" y="104.97" width="1.4" height="1.4"/><rect x="467.40" y="104.98" width="1.4" height="1.4"/><rect x="470.10" y="105.01" width="1.4" height="1.4"/><rect x="472.80" y="105.23" width="1.4" height="1.4"/><rect x="456.60" y="105.53" width="1.4" height="1.4"/><rect x="459.30" y="106.04" width="1.4" height="1.4"/><rect x="462.00" y="106.11" width="1.4" height="1.4"/><rect x="464.70" y="106.71" width="1.4" height="1.4"/><rect x="467.40" y="106.87" width="1.4" height="1.4"/><rect x="470.10" y="107.30" width="1.4" height="1.4"/><rect x="472.80" y="107.49" width="1.4" height="1.4"/><rect x="457.95" y="108.28" width="1.4" height="1.4"/><rect x="460.65" y="108.33" width="1.4" height="1.4"/><rect x="463.35" y="109.68" width="1.4" height="1.4"/><rect x="466.05" y="109.83" width="1.4" height="1.4"/><rect x="468.75" y="109.85" width="1.4" height="1.4"/><rect x="471.45" y="109.97" width="1.4" height="1.4"/><rect x="456.60" y="110.87" width="1.4" height="1.4"/><rect x="459.30" y="111.09" width="1.4" height="1.4"/><rect x="462.00" y="111.17" width="1.4" height="1.4"/><rect x="464.70" y="111.32" width="1.4" height="1.4"/><rect x="467.40" y="112.18" width="1.4" height="1.4"/><rect x="470.10" y="112.28" width="1.4" height="1.4"/><rect x="472.80" y="112.46" width="1.4" height="1.4"/><rect x="456.60" y="112.55" width="1.4" height="1.4"/><rect x="459.30" y="112.78" width="1.4" height="1.4"/><rect x="462.00" y="112.95" width="1.4" height="1.4"/><rect x="464.70" y="113.22" width="1.4" height="1.4"/><rect x="467.40" y="113.51" width="1.4" height="1.4"/><rect x="470.10" y="113.52" width="1.4" height="1.4"/><rect x="472.80" y="114.07" width="1.4" height="1.4"/><rect x="462.00" y="116.32" width="1.4" height="1.4"/><rect x="464.70" y="117.56" width="1.4" height="1.4"/><rect x="467.40" y="118.10" width="1.4" height="1.4"/><rect x="464.70" y="125.30" width="1.4" height="1.4"/></g><g stroke="#1f7cf2"><line x1="457.70" y1="106.20" x2="473.10" y2="106.20" stroke-width="1.8"/><line x1="465.40" y1="97.60" x2="465.40" y2="114.20" stroke-width="1"/><line x1="461.80" y1="97.60" x2="469.00" y2="97.60" stroke-width="1.1"/><line x1="461.80" y1="114.20" x2="469.00" y2="114.20" stroke-width="1.1"/></g>
<g fill="#111"><rect x="481.80" y="93.50" width="1.4" height="1.4"/><rect x="476.40" y="101.77" width="1.4" height="1.4"/><rect x="479.10" y="102.30" width="1.4" height="1.4"/><rect x="481.80" y="103.00" width="1.4" height="1.4"/><rect x="484.50" y="103.27" width="1.4" height="1.4"/><rect x="487.20" y="103.44" width="1.4" height="1.4"/><rect x="473.70" y="104.38" width="1.4" height="1.4"/><rect x="476.40" y="104.86" width="1.4" height="1.4"/><rect x="479.10" y="105.35" width="1.4" height="1.4"/><rect x="481.80" y="105.71" width="1.4" height="1.4"/><rect x="484.50" y="106.01" width="1.4" height="1.4"/><rect x="487.20" y="106.37" width="1.4" height="1.4"/><rect x="489.90" y="106.51" width="1.4" height="1.4"/><rect x="476.40" y="107.32" width="1.4" height="1.4"/><rect x="479.10" y="107.43" width="1.4" height="1.4"/><rect x="481.80" y="107.68" width="1.4" height="1.4"/><rect x="484.50" y="108.41" width="1.4" height="1.4"/><rect x="487.20" y="109.15" width="1.4" height="1.4"/><rect x="476.40" y="109.59" width="1.4" height="1.4"/><rect x="479.10" y="110.38" width="1.4" height="1.4"/><rect x="481.80" y="110.52" width="1.4" height="1.4"/><rect x="484.50" y="111.21" width="1.4" height="1.4"/><rect x="487.20" y="111.48" width="1.4" height="1.4"/><rect x="477.75" y="112.66" width="1.4" height="1.4"/><rect x="480.45" y="113.38" width="1.4" height="1.4"/><rect x="483.15" y="114.11" width="1.4" height="1.4"/><rect x="485.85" y="114.47" width="1.4" height="1.4"/><rect x="473.70" y="114.95" width="1.4" height="1.4"/><rect x="476.40" y="114.99" width="1.4" height="1.4"/><rect x="479.10" y="115.35" width="1.4" height="1.4"/><rect x="481.80" y="115.36" width="1.4" height="1.4"/><rect x="484.50" y="115.49" width="1.4" height="1.4"/><rect x="487.20" y="115.60" width="1.4" height="1.4"/><rect x="489.90" y="116.02" width="1.4" height="1.4"/><rect x="477.75" y="116.07" width="1.4" height="1.4"/><rect x="480.45" y="116.40" width="1.4" height="1.4"/><rect x="483.15" y="117.08" width="1.4" height="1.4"/><rect x="485.85" y="118.08" width="1.4" height="1.4"/><rect x="479.10" y="118.73" width="1.4" height="1.4"/><rect x="481.80" y="120.60" width="1.4" height="1.4"/><rect x="484.50" y="120.67" width="1.4" height="1.4"/><rect x="480.45" y="121.53" width="1.4" height="1.4"/><rect x="483.15" y="123.01" width="1.4" height="1.4"/><rect x="479.10" y="124.85" width="1.4" height="1.4"/><rect x="481.80" y="125.62" width="1.4" height="1.4"/><rect x="484.50" y="126.30" width="1.4" height="1.4"/></g><g stroke="#111"><line x1="474.80" y1="113.50" x2="490.20" y2="113.50" stroke-width="1.8"/><line x1="482.50" y1="106.70" x2="482.50" y2="119.70" stroke-width="1"/><line x1="478.90" y1="106.70" x2="486.10" y2="106.70" stroke-width="1.1"/><line x1="478.90" y1="119.70" x2="486.10" y2="119.70" stroke-width="1.1"/></g>
<g fill="#1f7cf2"><rect x="507.15" y="54.80" width="1.4" height="1.4"/><rect x="509.85" y="56.88" width="1.4" height="1.4"/><rect x="507.15" y="57.66" width="1.4" height="1.4"/><rect x="509.85" y="57.92" width="1.4" height="1.4"/><rect x="508.50" y="61.17" width="1.4" height="1.4"/><rect x="507.15" y="63.79" width="1.4" height="1.4"/><rect x="509.85" y="65.23" width="1.4" height="1.4"/><rect x="507.15" y="66.24" width="1.4" height="1.4"/><rect x="509.85" y="67.59" width="1.4" height="1.4"/><rect x="505.80" y="68.51" width="1.4" height="1.4"/><rect x="508.50" y="69.20" width="1.4" height="1.4"/><rect x="511.20" y="69.53" width="1.4" height="1.4"/><rect x="501.75" y="71.48" width="1.4" height="1.4"/><rect x="504.45" y="71.69" width="1.4" height="1.4"/><rect x="507.15" y="71.81" width="1.4" height="1.4"/><rect x="509.85" y="71.96" width="1.4" height="1.4"/><rect x="512.55" y="72.14" width="1.4" height="1.4"/><rect x="515.25" y="73.07" width="1.4" height="1.4"/><rect x="503.10" y="73.72" width="1.4" height="1.4"/><rect x="505.80" y="73.95" width="1.4" height="1.4"/><rect x="508.50" y="74.84" width="1.4" height="1.4"/><rect x="511.20" y="75.09" width="1.4" height="1.4"/><rect x="513.90" y="75.78" width="1.4" height="1.4"/><rect x="503.10" y="76.32" width="1.4" height="1.4"/><rect x="505.80" y="76.52" width="1.4" height="1.4"/><rect x="508.50" y="77.89" width="1.4" height="1.4"/><rect x="511.20" y="78.01" width="1.4" height="1.4"/><rect x="513.90" y="78.48" width="1.4" height="1.4"/><rect x="501.75" y="79.61" width="1.4" height="1.4"/><rect x="504.45" y="80.03" width="1.4" height="1.4"/><rect x="507.15" y="80.70" width="1.4" height="1.4"/><rect x="509.85" y="80.84" width="1.4" height="1.4"/><rect x="512.55" y="81.06" width="1.4" height="1.4"/><rect x="515.25" y="81.35" width="1.4" height="1.4"/><rect x="505.80" y="82.69" width="1.4" height="1.4"/><rect x="508.50" y="82.99" width="1.4" height="1.4"/><rect x="511.20" y="83.14" width="1.4" height="1.4"/><rect x="504.45" y="85.49" width="1.4" height="1.4"/><rect x="507.15" y="86.62" width="1.4" height="1.4"/><rect x="509.85" y="86.91" width="1.4" height="1.4"/><rect x="512.55" y="87.49" width="1.4" height="1.4"/><rect x="507.15" y="87.84" width="1.4" height="1.4"/><rect x="509.85" y="88.40" width="1.4" height="1.4"/><rect x="505.80" y="90.53" width="1.4" height="1.4"/><rect x="508.50" y="91.53" width="1.4" height="1.4"/><rect x="511.20" y="92.11" width="1.4" height="1.4"/><rect x="500.40" y="92.77" width="1.4" height="1.4"/><rect x="503.10" y="92.79" width="1.4" height="1.4"/><rect x="505.80" y="93.02" width="1.4" height="1.4"/><rect x="508.50" y="93.46" width="1.4" height="1.4"/><rect x="511.20" y="93.67" width="1.4" height="1.4"/><rect x="513.90" y="93.99" width="1.4" height="1.4"/><rect x="516.60" y="94.75" width="1.4" height="1.4"/><rect x="503.10" y="95.66" width="1.4" height="1.4"/><rect x="505.80" y="95.92" width="1.4" height="1.4"/><rect x="508.50" y="96.29" width="1.4" height="1.4"/><rect x="511.20" y="96.64" width="1.4" height="1.4"/><rect x="513.90" y="96.79" width="1.4" height="1.4"/><rect x="504.45" y="98.87" width="1.4" height="1.4"/><rect x="507.15" y="99.40" width="1.4" height="1.4"/><rect x="509.85" y="99.69" width="1.4" height="1.4"/><rect x="512.55" y="99.70" width="1.4" height="1.4"/><rect x="508.50" y="103.50" width="1.4" height="1.4"/><rect x="508.50" y="110.30" width="1.4" height="1.4"/></g><g stroke="#1f7cf2"><line x1="501.50" y1="83.30" x2="516.90" y2="83.30" stroke-width="1.8"/><line x1="509.20" y1="71.90" x2="509.20" y2="94.70" stroke-width="1"/><line x1="505.60" y1="71.90" x2="512.80" y2="71.90" stroke-width="1.1"/><line x1="505.60" y1="94.70" x2="512.80" y2="94.70" stroke-width="1.1"/></g>
<g fill="#111"><rect x="525.10" y="50.30" width="1.4" height="1.4"/><rect x="523.75" y="55.70" width="1.4" height="1.4"/><rect x="526.45" y="56.75" width="1.4" height="1.4"/><rect x="523.75" y="58.37" width="1.4" height="1.4"/><rect x="526.45" y="59.78" width="1.4" height="1.4"/><rect x="525.10" y="61.45" width="1.4" height="1.4"/><rect x="523.75" y="66.31" width="1.4" height="1.4"/><rect x="526.45" y="67.01" width="1.4" height="1.4"/><rect x="519.70" y="70.58" width="1.4" height="1.4"/><rect x="522.40" y="71.08" width="1.4" height="1.4"/><rect x="525.10" y="71.95" width="1.4" height="1.4"/><rect x="527.80" y="72.17" width="1.4" height="1.4"/><rect x="530.50" y="72.20" width="1.4" height="1.4"/><rect x="517.00" y="73.72" width="1.4" height="1.4"/><rect x="519.70" y="73.86" width="1.4" height="1.4"/><rect x="522.40" y="74.11" width="1.4" height="1.4"/><rect x="525.10" y="74.21" width="1.4" height="1.4"/><rect x="527.80" y="74.45" width="1.4" height="1.4"/><rect x="530.50" y="74.46" width="1.4" height="1.4"/><rect x="533.20" y="75.52" width="1.4" height="1.4"/><rect x="525.10" y="76.05" width="1.4" height="1.4"/><rect x="518.35" y="78.57" width="1.4" height="1.4"/><rect x="521.05" y="78.87" width="1.4" height="1.4"/><rect x="523.75" y="79.11" width="1.4" height="1.4"/><rect x="526.45" y="80.05" width="1.4" height="1.4"/><rect x="529.15" y="80.45" width="1.4" height="1.4"/><rect x="531.85" y="80.61" width="1.4" height="1.4"/><rect x="523.75" y="81.38" width="1.4" height="1.4"/><rect x="526.45" y="83.06" width="1.4" height="1.4"/><rect x="519.70" y="87.15" width="1.4" height="1.4"/><rect x="522.40" y="87.49" width="1.4" height="1.4"/><rect x="525.10" y="87.81" width="1.4" height="1.4"/><rect x="527.80" y="88.41" width="1.4" height="1.4"/><rect x="530.50" y="88.81" width="1.4" height="1.4"/><rect x="523.75" y="90.15" width="1.4" height="1.4"/><rect x="526.45" y="92.06" width="1.4" height="1.4"/><rect x="519.70" y="94.09" width="1.4" height="1.4"/><rect x="522.40" y="94.15" width="1.4" height="1.4"/><rect x="525.10" y="94.20" width="1.4" height="1.4"/><rect x="527.80" y="95.03" width="1.4" height="1.4"/><rect x="530.50" y="96.27" width="1.4" height="1.4"/><rect x="525.10" y="99.59" width="1.4" height="1.4"/><rect x="522.40" y="103.10" width="1.4" height="1.4"/><rect x="525.10" y="103.65" width="1.4" height="1.4"/><rect x="527.80" y="104.99" width="1.4" height="1.4"/><rect x="525.10" y="107.20" width="1.4" height="1.4"/></g><g stroke="#111"><line x1="518.10" y1="83.30" x2="533.50" y2="83.30" stroke-width="1.8"/><line x1="525.80" y1="68.50" x2="525.80" y2="98.80" stroke-width="1"/><line x1="522.20" y1="68.50" x2="529.40" y2="68.50" stroke-width="1.1"/><line x1="522.20" y1="98.80" x2="529.40" y2="98.80" stroke-width="1.1"/></g>
<g fill="#1f7cf2"><rect x="550.75" y="94.60" width="1.4" height="1.4"/><rect x="553.45" y="96.29" width="1.4" height="1.4"/><rect x="549.40" y="96.91" width="1.4" height="1.4"/><rect x="552.10" y="98.23" width="1.4" height="1.4"/><rect x="554.80" y="98.69" width="1.4" height="1.4"/><rect x="546.70" y="99.43" width="1.4" height="1.4"/><rect x="549.40" y="100.35" width="1.4" height="1.4"/><rect x="552.10" y="100.89" width="1.4" height="1.4"/><rect x="554.80" y="101.21" width="1.4" height="1.4"/><rect x="557.50" y="101.44" width="1.4" height="1.4"/><rect x="545.35" y="102.41" width="1.4" height="1.4"/><rect x="548.05" y="102.77" width="1.4" height="1.4"/><rect x="550.75" y="103.35" width="1.4" height="1.4"/><rect x="553.45" y="103.61" width="1.4" height="1.4"/><rect x="556.15" y="103.88" width="1.4" height="1.4"/><rect x="558.85" y="104.29" width="1.4" height="1.4"/><rect x="544.00" y="104.63" width="1.4" height="1.4"/><rect x="546.70" y="104.77" width="1.4" height="1.4"/><rect x="549.40" y="105.39" width="1.4" height="1.4"/><rect x="552.10" y="105.48" width="1.4" height="1.4"/><rect x="554.80" y="105.68" width="1.4" height="1.4"/><rect x="557.50" y="105.72" width="1.4" height="1.4"/><rect x="560.20" y="105.87" width="1.4" height="1.4"/><rect x="546.70" y="106.15" width="1.4" height="1.4"/><rect x="549.40" y="107.29" width="1.4" height="1.4"/><rect x="552.10" y="107.72" width="1.4" height="1.4"/><rect x="554.80" y="108.11" width="1.4" height="1.4"/><rect x="557.50" y="108.31" width="1.4" height="1.4"/><rect x="544.00" y="108.52" width="1.4" height="1.4"/><rect x="546.70" y="108.56" width="1.4" height="1.4"/><rect x="549.40" y="108.58" width="1.4" height="1.4"/><rect x="552.10" y="108.61" width="1.4" height="1.4"/><rect x="554.80" y="109.32" width="1.4" height="1.4"/><rect x="557.50" y="109.89" width="1.4" height="1.4"/><rect x="560.20" y="110.22" width="1.4" height="1.4"/><rect x="544.00" y="110.27" width="1.4" height="1.4"/><rect x="546.70" y="111.01" width="1.4" height="1.4"/><rect x="549.40" y="111.04" width="1.4" height="1.4"/><rect x="552.10" y="111.79" width="1.4" height="1.4"/><rect x="554.80" y="111.90" width="1.4" height="1.4"/><rect x="557.50" y="112.18" width="1.4" height="1.4"/><rect x="560.20" y="112.35" width="1.4" height="1.4"/><rect x="544.00" y="112.60" width="1.4" height="1.4"/><rect x="546.70" y="113.04" width="1.4" height="1.4"/><rect x="549.40" y="113.16" width="1.4" height="1.4"/><rect x="552.10" y="113.17" width="1.4" height="1.4"/><rect x="554.80" y="113.19" width="1.4" height="1.4"/><rect x="557.50" y="113.98" width="1.4" height="1.4"/><rect x="560.20" y="114.56" width="1.4" height="1.4"/><rect x="548.05" y="114.77" width="1.4" height="1.4"/><rect x="550.75" y="114.99" width="1.4" height="1.4"/><rect x="553.45" y="116.14" width="1.4" height="1.4"/><rect x="556.15" y="116.27" width="1.4" height="1.4"/><rect x="545.35" y="117.12" width="1.4" height="1.4"/><rect x="548.05" y="117.38" width="1.4" height="1.4"/><rect x="550.75" y="117.92" width="1.4" height="1.4"/><rect x="553.45" y="118.05" width="1.4" height="1.4"/><rect x="556.15" y="118.17" width="1.4" height="1.4"/><rect x="558.85" y="118.24" width="1.4" height="1.4"/><rect x="549.40" y="121.82" width="1.4" height="1.4"/><rect x="552.10" y="122.24" width="1.4" height="1.4"/><rect x="554.80" y="122.60" width="1.4" height="1.4"/><rect x="552.10" y="127.20" width="1.4" height="1.4"/><rect x="552.10" y="131.10" width="1.4" height="1.4"/></g><g stroke="#1f7cf2"><line x1="545.10" y1="108.30" x2="560.50" y2="108.30" stroke-width="1.8"/><line x1="552.80" y1="103.30" x2="552.80" y2="113.50" stroke-width="1"/><line x1="549.20" y1="103.30" x2="556.40" y2="103.30" stroke-width="1.1"/><line x1="549.20" y1="113.50" x2="556.40" y2="113.50" stroke-width="1.1"/></g>
<g fill="#111"><rect x="569.30" y="83.90" width="1.4" height="1.4"/><rect x="567.95" y="96.90" width="1.4" height="1.4"/><rect x="570.65" y="97.29" width="1.4" height="1.4"/><rect x="566.60" y="101.85" width="1.4" height="1.4"/><rect x="569.30" y="102.82" width="1.4" height="1.4"/><rect x="572.00" y="103.27" width="1.4" height="1.4"/><rect x="561.20" y="104.34" width="1.4" height="1.4"/><rect x="563.90" y="104.44" width="1.4" height="1.4"/><rect x="566.60" y="104.58" width="1.4" height="1.4"/><rect x="569.30" y="104.82" width="1.4" height="1.4"/><rect x="572.00" y="104.94" width="1.4" height="1.4"/><rect x="574.70" y="105.30" width="1.4" height="1.4"/><rect x="577.40" y="105.37" width="1.4" height="1.4"/><rect x="562.55" y="105.79" width="1.4" height="1.4"/><rect x="565.25" y="106.05" width="1.4" height="1.4"/><rect x="567.95" y="106.88" width="1.4" height="1.4"/><rect x="570.65" y="106.98" width="1.4" height="1.4"/><rect x="573.35" y="107.48" width="1.4" height="1.4"/><rect x="576.05" y="107.71" width="1.4" height="1.4"/><rect x="561.20" y="110.44" width="1.4" height="1.4"/><rect x="563.90" y="110.85" width="1.4" height="1.4"/><rect x="566.60" y="110.90" width="1.4" height="1.4"/><rect x="569.30" y="111.11" width="1.4" height="1.4"/><rect x="572.00" y="111.21" width="1.4" height="1.4"/><rect x="574.70" y="111.91" width="1.4" height="1.4"/><rect x="577.40" y="112.15" width="1.4" height="1.4"/><rect x="563.90" y="112.97" width="1.4" height="1.4"/><rect x="566.60" y="113.36" width="1.4" height="1.4"/><rect x="569.30" y="113.51" width="1.4" height="1.4"/><rect x="572.00" y="114.20" width="1.4" height="1.4"/><rect x="574.70" y="114.89" width="1.4" height="1.4"/><rect x="562.55" y="115.20" width="1.4" height="1.4"/><rect x="565.25" y="115.27" width="1.4" height="1.4"/><rect x="567.95" y="115.41" width="1.4" height="1.4"/><rect x="570.65" y="115.60" width="1.4" height="1.4"/><rect x="573.35" y="116.45" width="1.4" height="1.4"/><rect x="576.05" y="116.64" width="1.4" height="1.4"/><rect x="566.60" y="118.00" width="1.4" height="1.4"/><rect x="569.30" y="119.08" width="1.4" height="1.4"/><rect x="572.00" y="119.39" width="1.4" height="1.4"/><rect x="566.60" y="120.33" width="1.4" height="1.4"/><rect x="569.30" y="120.57" width="1.4" height="1.4"/><rect x="572.00" y="122.39" width="1.4" height="1.4"/><rect x="567.95" y="123.28" width="1.4" height="1.4"/><rect x="570.65" y="124.83" width="1.4" height="1.4"/><rect x="569.30" y="126.30" width="1.4" height="1.4"/></g><g stroke="#111"><line x1="562.30" y1="111.90" x2="577.70" y2="111.90" stroke-width="1.8"/><line x1="570.00" y1="103.70" x2="570.00" y2="119.70" stroke-width="1"/><line x1="566.40" y1="103.70" x2="573.60" y2="103.70" stroke-width="1.1"/><line x1="566.40" y1="119.70" x2="573.60" y2="119.70" stroke-width="1.1"/></g>
<g fill="#1f7cf2"><rect x="594.55" y="95.30" width="1.4" height="1.4"/><rect x="597.25" y="96.34" width="1.4" height="1.4"/><rect x="595.90" y="98.35" width="1.4" height="1.4"/><rect x="589.15" y="101.29" width="1.4" height="1.4"/><rect x="591.85" y="102.62" width="1.4" height="1.4"/><rect x="594.55" y="102.84" width="1.4" height="1.4"/><rect x="597.25" y="102.96" width="1.4" height="1.4"/><rect x="599.95" y="103.20" width="1.4" height="1.4"/><rect x="602.65" y="103.44" width="1.4" height="1.4"/><rect x="593.20" y="103.76" width="1.4" height="1.4"/><rect x="595.90" y="104.12" width="1.4" height="1.4"/><rect x="598.60" y="104.45" width="1.4" height="1.4"/><rect x="587.80" y="106.10" width="1.4" height="1.4"/><rect x="590.50" y="106.12" width="1.4" height="1.4"/><rect x="593.20" y="106.95" width="1.4" height="1.4"/><rect x="595.90" y="107.26" width="1.4" height="1.4"/><rect x="598.60" y="107.66" width="1.4" height="1.4"/><rect x="601.30" y="107.68" width="1.4" height="1.4"/><rect x="604.00" y="107.72" width="1.4" height="1.4"/><rect x="587.80" y="107.84" width="1.4" height="1.4"/><rect x="590.50" y="108.23" width="1.4" height="1.4"/><rect x="593.20" y="108.37" width="1.4" height="1.4"/><rect x="595.90" y="108.60" width="1.4" height="1.4"/><rect x="598.60" y="108.88" width="1.4" height="1.4"/><rect x="601.30" y="109.21" width="1.4" height="1.4"/><rect x="604.00" y="109.25" width="1.4" height="1.4"/><rect x="587.80" y="110.18" width="1.4" height="1.4"/><rect x="590.50" y="110.35" width="1.4" height="1.4"/><rect x="593.20" y="110.61" width="1.4" height="1.4"/><rect x="595.90" y="110.64" width="1.4" height="1.4"/><rect x="598.60" y="110.71" width="1.4" height="1.4"/><rect x="601.30" y="110.77" width="1.4" height="1.4"/><rect x="604.00" y="110.93" width="1.4" height="1.4"/><rect x="589.15" y="111.16" width="1.4" height="1.4"/><rect x="591.85" y="112.01" width="1.4" height="1.4"/><rect x="594.55" y="112.54" width="1.4" height="1.4"/><rect x="597.25" y="112.55" width="1.4" height="1.4"/><rect x="599.95" y="112.96" width="1.4" height="1.4"/><rect x="602.65" y="113.20" width="1.4" height="1.4"/><rect x="591.85" y="113.39" width="1.4" height="1.4"/><rect x="594.55" y="113.85" width="1.4" height="1.4"/><rect x="597.25" y="113.91" width="1.4" height="1.4"/><rect x="599.95" y="114.42" width="1.4" height="1.4"/><rect x="591.85" y="115.65" width="1.4" height="1.4"/><rect x="594.55" y="116.37" width="1.4" height="1.4"/><rect x="597.25" y="117.47" width="1.4" height="1.4"/><rect x="599.95" y="117.47" width="1.4" height="1.4"/><rect x="587.80" y="118.03" width="1.4" height="1.4"/><rect x="590.50" y="118.12" width="1.4" height="1.4"/><rect x="593.20" y="118.17" width="1.4" height="1.4"/><rect x="595.90" y="118.22" width="1.4" height="1.4"/><rect x="598.60" y="118.75" width="1.4" height="1.4"/><rect x="601.30" y="119.55" width="1.4" height="1.4"/><rect x="604.00" y="119.76" width="1.4" height="1.4"/><rect x="591.85" y="120.04" width="1.4" height="1.4"/><rect x="594.55" y="120.09" width="1.4" height="1.4"/><rect x="597.25" y="121.06" width="1.4" height="1.4"/><rect x="599.95" y="122.20" width="1.4" height="1.4"/><rect x="593.20" y="123.20" width="1.4" height="1.4"/><rect x="595.90" y="123.46" width="1.4" height="1.4"/><rect x="598.60" y="124.36" width="1.4" height="1.4"/><rect x="595.90" y="126.84" width="1.4" height="1.4"/><rect x="594.55" y="133.15" width="1.4" height="1.4"/><rect x="597.25" y="134.50" width="1.4" height="1.4"/></g><g stroke="#1f7cf2"><line x1="588.90" y1="113.50" x2="604.30" y2="113.50" stroke-width="1.8"/><line x1="596.60" y1="106.70" x2="596.60" y2="120.40" stroke-width="1"/><line x1="593.00" y1="106.70" x2="600.20" y2="106.70" stroke-width="1.1"/><line x1="593.00" y1="120.40" x2="600.20" y2="120.40" stroke-width="1.1"/></g>
<g fill="#111"><rect x="609.05" y="93.90" width="1.4" height="1.4"/><rect x="611.75" y="94.75" width="1.4" height="1.4"/><rect x="614.45" y="95.37" width="1.4" height="1.4"/><rect x="617.15" y="96.04" width="1.4" height="1.4"/><rect x="609.05" y="98.32" width="1.4" height="1.4"/><rect x="611.75" y="98.89" width="1.4" height="1.4"/><rect x="614.45" y="99.25" width="1.4" height="1.4"/><rect x="617.15" y="99.84" width="1.4" height="1.4"/><rect x="609.05" y="100.58" width="1.4" height="1.4"/><rect x="611.75" y="101.55" width="1.4" height="1.4"/><rect x="614.45" y="101.76" width="1.4" height="1.4"/><rect x="617.15" y="102.47" width="1.4" height="1.4"/><rect x="609.05" y="103.08" width="1.4" height="1.4"/><rect x="611.75" y="103.43" width="1.4" height="1.4"/><rect x="614.45" y="103.99" width="1.4" height="1.4"/><rect x="617.15" y="104.67" width="1.4" height="1.4"/><rect x="607.70" y="105.37" width="1.4" height="1.4"/><rect x="610.40" y="105.87" width="1.4" height="1.4"/><rect x="613.10" y="106.33" width="1.4" height="1.4"/><rect x="615.80" y="106.40" width="1.4" height="1.4"/><rect x="618.50" y="106.86" width="1.4" height="1.4"/><rect x="609.05" y="108.92" width="1.4" height="1.4"/><rect x="611.75" y="109.34" width="1.4" height="1.4"/><rect x="614.45" y="109.93" width="1.4" height="1.4"/><rect x="617.15" y="111.05" width="1.4" height="1.4"/><rect x="606.35" y="113.18" width="1.4" height="1.4"/><rect x="609.05" y="113.19" width="1.4" height="1.4"/><rect x="611.75" y="114.65" width="1.4" height="1.4"/><rect x="614.45" y="114.87" width="1.4" height="1.4"/><rect x="617.15" y="115.12" width="1.4" height="1.4"/><rect x="619.85" y="115.18" width="1.4" height="1.4"/><rect x="609.05" y="116.28" width="1.4" height="1.4"/><rect x="611.75" y="116.39" width="1.4" height="1.4"/><rect x="614.45" y="116.48" width="1.4" height="1.4"/><rect x="617.15" y="116.84" width="1.4" height="1.4"/><rect x="611.75" y="118.67" width="1.4" height="1.4"/><rect x="614.45" y="119.93" width="1.4" height="1.4"/><rect x="607.70" y="121.83" width="1.4" height="1.4"/><rect x="610.40" y="122.33" width="1.4" height="1.4"/><rect x="613.10" y="123.66" width="1.4" height="1.4"/><rect x="615.80" y="123.67" width="1.4" height="1.4"/><rect x="618.50" y="123.83" width="1.4" height="1.4"/><rect x="613.10" y="125.80" width="1.4" height="1.4"/><rect x="611.75" y="128.37" width="1.4" height="1.4"/><rect x="614.45" y="128.80" width="1.4" height="1.4"/><rect x="613.10" y="139.50" width="1.4" height="1.4"/></g><g stroke="#111"><line x1="606.10" y1="111.90" x2="621.50" y2="111.90" stroke-width="1.8"/><line x1="613.80" y1="101.00" x2="613.80" y2="121.00" stroke-width="1"/><line x1="610.20" y1="101.00" x2="617.40" y2="101.00" stroke-width="1.1"/><line x1="610.20" y1="121.00" x2="617.40" y2="121.00" stroke-width="1.1"/></g>
<g fill="#1f7cf2"><rect x="71.50" y="270.60" width="1.4" height="1.4"/><rect x="71.50" y="284.40" width="1.4" height="1.4"/><rect x="71.50" y="288.70" width="1.4" height="1.4"/><rect x="71.50" y="291.90" width="1.4" height="1.4"/><rect x="68.80" y="295.80" width="1.4" height="1.4"/><rect x="71.50" y="296.00" width="1.4" height="1.4"/><rect x="74.20" y="297.87" width="1.4" height="1.4"/><rect x="68.80" y="298.05" width="1.4" height="1.4"/><rect x="71.50" y="298.34" width="1.4" height="1.4"/><rect x="74.20" y="299.80" width="1.4" height="1.4"/><rect x="67.45" y="302.12" width="1.4" height="1.4"/><rect x="70.15" y="302.43" width="1.4" height="1.4"/><rect x="72.85" y="302.54" width="1.4" height="1.4"/><rect x="75.55" y="303.90" width="1.4" height="1.4"/><rect x="63.40" y="305.29" width="1.4" height="1.4"/><rect x="66.10" y="305.89" width="1.4" height="1.4"/><rect x="68.80" y="306.20" width="1.4" height="1.4"/><rect x="71.50" y="306.50" width="1.4" height="1.4"/><rect x="74.20" y="307.16" width="1.4" height="1.4"/><rect x="76.90" y="307.18" width="1.4" height="1.4"/><rect x="79.60" y="307.27" width="1.4" height="1.4"/><rect x="71.50" y="307.32" width="1.4" height="1.4"/><rect x="66.10" y="310.89" width="1.4" height="1.4"/><rect x="68.80" y="311.41" width="1.4" height="1.4"/><rect x="71.50" y="312.23" width="1.4" height="1.4"/><rect x="74.20" y="312.34" width="1.4" height="1.4"/><rect x="76.90" y="312.44" width="1.4" height="1.4"/><rect x="68.80" y="313.83" width="1.4" height="1.4"/><rect x="71.50" y="315.33" width="1.4" height="1.4"/><rect x="74.20" y="315.39" width="1.4" height="1.4"/><rect x="64.75" y="316.22" width="1.4" height="1.4"/><rect x="67.45" y="316.32" width="1.4" height="1.4"/><rect x="70.15" y="316.52" width="1.4" height="1.4"/><rect x="72.85" y="316.98" width="1.4" height="1.4"/><rect x="75.55" y="317.25" width="1.4" height="1.4"/><rect x="78.25" y="317.51" width="1.4" height="1.4"/><rect x="68.80" y="318.93" width="1.4" height="1.4"/><rect x="71.50" y="319.97" width="1.4" height="1.4"/><rect x="74.20" y="320.14" width="1.4" height="1.4"/><rect x="70.15" y="321.25" width="1.4" height="1.4"/><rect x="72.85" y="321.96" width="1.4" height="1.4"/><rect x="68.80" y="324.04" width="1.4" height="1.4"/><rect x="71.50" y="325.61" width="1.4" height="1.4"/><rect x="74.20" y="325.97" width="1.4" height="1.4"/><rect x="66.10" y="326.63" width="1.4" height="1.4"/><rect x="68.80" y="326.96" width="1.4" height="1.4"/><rect x="71.50" y="327.70" width="1.4" height="1.4"/><rect x="74.20" y="328.23" width="1.4" height="1.4"/><rect x="76.90" y="328.28" width="1.4" height="1.4"/><rect x="68.80" y="328.90" width="1.4" height="1.4"/><rect x="71.50" y="329.33" width="1.4" height="1.4"/><rect x="74.20" y="329.76" width="1.4" height="1.4"/><rect x="67.45" y="331.60" width="1.4" height="1.4"/><rect x="70.15" y="332.06" width="1.4" height="1.4"/><rect x="72.85" y="332.70" width="1.4" height="1.4"/><rect x="75.55" y="333.03" width="1.4" height="1.4"/><rect x="68.80" y="334.62" width="1.4" height="1.4"/><rect x="71.50" y="334.89" width="1.4" height="1.4"/><rect x="74.20" y="336.33" width="1.4" height="1.4"/><rect x="70.15" y="337.40" width="1.4" height="1.4"/><rect x="72.85" y="339.42" width="1.4" height="1.4"/><rect x="71.50" y="339.60" width="1.4" height="1.4"/><rect x="71.50" y="346.20" width="1.4" height="1.4"/><rect x="71.50" y="360.00" width="1.4" height="1.4"/></g><g stroke="#1f7cf2"><line x1="64.50" y1="317.10" x2="79.90" y2="317.10" stroke-width="1.8"/><line x1="72.20" y1="302.00" x2="72.20" y2="332.30" stroke-width="1"/><line x1="68.60" y1="302.00" x2="75.80" y2="302.00" stroke-width="1.1"/><line x1="68.60" y1="332.30" x2="75.80" y2="332.30" stroke-width="1.1"/></g>
<g fill="#111"><rect x="88.50" y="285.60" width="1.4" height="1.4"/><rect x="85.80" y="294.50" width="1.4" height="1.4"/><rect x="88.50" y="295.94" width="1.4" height="1.4"/><rect x="91.20" y="296.42" width="1.4" height="1.4"/><rect x="87.15" y="297.28" width="1.4" height="1.4"/><rect x="89.85" y="297.31" width="1.4" height="1.4"/><rect x="85.80" y="300.57" width="1.4" height="1.4"/><rect x="88.50" y="301.36" width="1.4" height="1.4"/><rect x="91.20" y="301.43" width="1.4" height="1.4"/><rect x="84.45" y="303.01" width="1.4" height="1.4"/><rect x="87.15" y="303.03" width="1.4" height="1.4"/><rect x="89.85" y="303.22" width="1.4" height="1.4"/><rect x="92.55" y="304.65" width="1.4" height="1.4"/><rect x="84.45" y="305.53" width="1.4" height="1.4"/><rect x="87.15" y="307.18" width="1.4" height="1.4"/><rect x="89.85" y="307.24" width="1.4" height="1.4"/><rect x="92.55" y="307.45" width="1.4" height="1.4"/><rect x="88.50" y="308.25" width="1.4" height="1.4"/><rect x="83.10" y="313.68" width="1.4" height="1.4"/><rect x="85.80" y="314.69" width="1.4" height="1.4"/><rect x="88.50" y="315.17" width="1.4" height="1.4"/><rect x="91.20" y="315.37" width="1.4" height="1.4"/><rect x="93.90" y="315.71" width="1.4" height="1.4"/><rect x="84.45" y="316.05" width="1.4" height="1.4"/><rect x="87.15" y="317.22" width="1.4" height="1.4"/><rect x="89.85" y="317.23" width="1.4" height="1.4"/><rect x="92.55" y="317.73" width="1.4" height="1.4"/><rect x="85.80" y="318.29" width="1.4" height="1.4"/><rect x="88.50" y="318.70" width="1.4" height="1.4"/><rect x="91.20" y="319.02" width="1.4" height="1.4"/><rect x="85.80" y="321.24" width="1.4" height="1.4"/><rect x="88.50" y="321.50" width="1.4" height="1.4"/><rect x="91.20" y="323.14" width="1.4" height="1.4"/><rect x="85.80" y="324.13" width="1.4" height="1.4"/><rect x="88.50" y="325.49" width="1.4" height="1.4"/><rect x="91.20" y="325.86" width="1.4" height="1.4"/><rect x="80.40" y="327.54" width="1.4" height="1.4"/><rect x="83.10" y="327.60" width="1.4" height="1.4"/><rect x="85.80" y="327.98" width="1.4" height="1.4"/><rect x="88.50" y="328.30" width="1.4" height="1.4"/><rect x="91.20" y="329.26" width="1.4" height="1.4"/><rect x="93.90" y="329.39" width="1.4" height="1.4"/><rect x="96.60" y="329.56" width="1.4" height="1.4"/><rect x="88.50" y="329.66" width="1.4" height="1.4"/><rect x="87.15" y="332.29" width="1.4" height="1.4"/><rect x="89.85" y="332.40" width="1.4" height="1.4"/></g><g stroke="#111"><line x1="81.50" y1="313.00" x2="96.90" y2="313.00" stroke-width="1.8"/><line x1="89.20" y1="302.00" x2="89.20" y2="324.40" stroke-width="1"/><line x1="85.60" y1="302.00" x2="92.80" y2="302.00" stroke-width="1.1"/><line x1="85.60" y1="324.40" x2="92.80" y2="324.40" stroke-width="1.1"/></g>
<g fill="#1f7cf2"><rect x="114.70" y="266.90" width="1.4" height="1.4"/><rect x="114.70" y="282.10" width="1.4" height="1.4"/><rect x="113.35" y="286.38" width="1.4" height="1.4"/><rect x="116.05" y="288.19" width="1.4" height="1.4"/><rect x="114.70" y="290.18" width="1.4" height="1.4"/><rect x="109.30" y="292.49" width="1.4" height="1.4"/><rect x="112.00" y="292.67" width="1.4" height="1.4"/><rect x="114.70" y="292.67" width="1.4" height="1.4"/><rect x="117.40" y="293.66" width="1.4" height="1.4"/><rect x="120.10" y="294.28" width="1.4" height="1.4"/><rect x="113.35" y="294.78" width="1.4" height="1.4"/><rect x="116.05" y="295.84" width="1.4" height="1.4"/><rect x="109.30" y="298.67" width="1.4" height="1.4"/><rect x="112.00" y="298.85" width="1.4" height="1.4"/><rect x="114.70" y="299.38" width="1.4" height="1.4"/><rect x="117.40" y="299.57" width="1.4" height="1.4"/><rect x="120.10" y="300.84" width="1.4" height="1.4"/><rect x="112.00" y="301.64" width="1.4" height="1.4"/><rect x="114.70" y="302.57" width="1.4" height="1.4"/><rect x="117.40" y="303.33" width="1.4" height="1.4"/><rect x="109.30" y="303.89" width="1.4" height="1.4"/><rect x="112.00" y="304.57" width="1.4" height="1.4"/><rect x="114.70" y="304.97" width="1.4" height="1.4"/><rect x="117.40" y="305.34" width="1.4" height="1.4"/><rect x="120.10" y="305.64" width="1.4" height="1.4"/><rect x="110.65" y="306.76" width="1.4" height="1.4"/><rect x="113.35" y="306.90" width="1.4" height="1.4"/><rect x="116.05" y="307.13" width="1.4" height="1.4"/><rect x="118.75" y="307.17" width="1.4" height="1.4"/><rect x="107.95" y="309.12" width="1.4" height="1.4"/><rect x="110.65" y="309.22" width="1.4" height="1.4"/><rect x="113.35" y="309.98" width="1.4" height="1.4"/><rect x="116.05" y="310.09" width="1.4" height="1.4"/><rect x="118.75" y="310.37" width="1.4" height="1.4"/><rect x="121.45" y="311.06" width="1.4" height="1.4"/><rect x="107.95" y="312.45" width="1.4" height="1.4"/><rect x="110.65" y="313.07" width="1.4" height="1.4"/><rect x="113.35" y="313.63" width="1.4" height="1.4"/><rect x="116.05" y="313.75" width="1.4" height="1.4"/><rect x="118.75" y="314.58" width="1.4" height="1.4"/><rect x="121.45" y="314.60" width="1.4" height="1.4"/><rect x="109.30" y="315.19" width="1.4" height="1.4"/><rect x="112.00" y="315.24" width="1.4" height="1.4"/><rect x="114.70" y="315.29" width="1.4" height="1.4"/><rect x="117.40" y="316.34" width="1.4" height="1.4"/><rect x="120.10" y="317.12" width="1.4" height="1.4"/><rect x="110.65" y="317.69" width="1.4" height="1.4"/><rect x="113.35" y="317.78" width="1.4" height="1.4"/><rect x="116.05" y="319.53" width="1.4" height="1.4"/><rect x="118.75" y="319.64" width="1.4" height="1.4"/><rect x="112.00" y="319.94" width="1.4" height="1.4"/><rect x="114.70" y="320.57" width="1.4" height="1.4"/><rect x="117.40" y="321.58" width="1.4" height="1.4"/><rect x="107.95" y="322.30" width="1.4" height="1.4"/><rect x="110.65" y="322.53" width="1.4" height="1.4"/><rect x="113.35" y="322.56" width="1.4" height="1.4"/><rect x="116.05" y="323.91" width="1.4" height="1.4"/><rect x="118.75" y="324.12" width="1.4" height="1.4"/><rect x="121.45" y="324.46" width="1.4" height="1.4"/><rect x="114.70" y="327.47" width="1.4" height="1.4"/><rect x="113.35" y="330.55" width="1.4" height="1.4"/><rect x="116.05" y="331.94" width="1.4" height="1.4"/><rect x="114.70" y="334.00" width="1.4" height="1.4"/><rect x="114.70" y="345.90" width="1.4" height="1.4"/></g><g stroke="#1f7cf2"><line x1="107.70" y1="314.40" x2="123.10" y2="314.40" stroke-width="1.8"/><line x1="115.40" y1="300.50" x2="115.40" y2="327.00" stroke-width="1"/><line x1="111.80" y1="300.50" x2="119.00" y2="300.50" stroke-width="1.1"/><line x1="111.80" y1="327.00" x2="119.00" y2="327.00" stroke-width="1.1"/></g>
<g fill="#111"><rect x="131.70" y="289.20" width="1.4" height="1.4"/><rect x="131.70" y="294.70" width="1.4" height="1.4"/><rect x="131.70" y="304.90" width="1.4" height="1.4"/><rect x="127.65" y="309.99" width="1.4" height="1.4"/><rect x="130.35" y="310.84" width="1.4" height="1.4"/><rect x="133.05" y="311.19" width="1.4" height="1.4"/><rect x="135.75" y="311.45" width="1.4" height="1.4"/><rect x="129.00" y="312.35" width="1.4" height="1.4"/><rect x="131.70" y="313.92" width="1.4" height="1.4"/><rect x="134.40" y="314.18" width="1.4" height="1.4"/><rect x="130.35" y="315.17" width="1.4" height="1.4"/><rect x="133.05" y="315.60" width="1.4" height="1.4"/><rect x="126.30" y="318.12" width="1.4" height="1.4"/><rect x="129.00" y="319.34" width="1.4" height="1.4"/><rect x="131.70" y="319.36" width="1.4" height="1.4"/><rect x="134.40" y="319.70" width="1.4" height="1.4"/><rect x="137.10" y="320.02" width="1.4" height="1.4"/><rect x="130.35" y="321.22" width="1.4" height="1.4"/><rect x="133.05" y="323.36" width="1.4" height="1.4"/><rect x="130.35" y="323.44" width="1.4" height="1.4"/><rect x="133.05" y="325.46" width="1.4" height="1.4"/><rect x="131.70" y="326.16" width="1.4" height="1.4"/><rect x="127.65" y="329.64" width="1.4" height="1.4"/><rect x="130.35" y="329.81" width="1.4" height="1.4"/><rect x="133.05" y="330.86" width="1.4" height="1.4"/><rect x="135.75" y="331.41" width="1.4" height="1.4"/><rect x="124.95" y="331.86" width="1.4" height="1.4"/><rect x="127.65" y="331.98" width="1.4" height="1.4"/><rect x="130.35" y="332.45" width="1.4" height="1.4"/><rect x="133.05" y="332.54" width="1.4" height="1.4"/><rect x="135.75" y="332.71" width="1.4" height="1.4"/><rect x="138.45" y="333.80" width="1.4" height="1.4"/><rect x="126.30" y="334.50" width="1.4" height="1.4"/><rect x="129.00" y="335.23" width="1.4" height="1.4"/><rect x="131.70" y="335.36" width="1.4" height="1.4"/><rect x="134.40" y="335.98" width="1.4" height="1.4"/><rect x="137.10" y="336.21" width="1.4" height="1.4"/><rect x="129.00" y="337.33" width="1.4" height="1.4"/><rect x="131.70" y="337.38" width="1.4" height="1.4"/><rect x="134.40" y="338.69" width="1.4" height="1.4"/><rect x="129.00" y="340.07" width="1.4" height="1.4"/><rect x="131.70" y="340.33" width="1.4" height="1.4"/><rect x="134.40" y="342.03" width="1.4" height="1.4"/><rect x="129.00" y="342.28" width="1.4" height="1.4"/><rect x="131.70" y="342.69" width="1.4" height="1.4"/><rect x="134.40" y="342.80" width="1.4" height="1.4"/></g><g stroke="#111"><line x1="124.70" y1="326.30" x2="140.10" y2="326.30" stroke-width="1.8"/><line x1="132.40" y1="315.20" x2="132.40" y2="336.00" stroke-width="1"/><line x1="128.80" y1="315.20" x2="136.00" y2="315.20" stroke-width="1.1"/><line x1="128.80" y1="336.00" x2="136.00" y2="336.00" stroke-width="1.1"/></g>
<g fill="#1f7cf2"><rect x="157.40" y="245.80" width="1.4" height="1.4"/><rect x="153.35" y="253.45" width="1.4" height="1.4"/><rect x="156.05" y="253.71" width="1.4" height="1.4"/><rect x="158.75" y="254.41" width="1.4" height="1.4"/><rect x="161.45" y="255.61" width="1.4" height="1.4"/><rect x="156.05" y="256.36" width="1.4" height="1.4"/><rect x="158.75" y="257.02" width="1.4" height="1.4"/><rect x="154.70" y="259.19" width="1.4" height="1.4"/><rect x="157.40" y="259.69" width="1.4" height="1.4"/><rect x="160.10" y="260.19" width="1.4" height="1.4"/><rect x="154.70" y="261.84" width="1.4" height="1.4"/><rect x="157.40" y="262.04" width="1.4" height="1.4"/><rect x="160.10" y="262.27" width="1.4" height="1.4"/><rect x="153.35" y="264.46" width="1.4" height="1.4"/><rect x="156.05" y="265.19" width="1.4" height="1.4"/><rect x="158.75" y="265.75" width="1.4" height="1.4"/><rect x="161.45" y="266.28" width="1.4" height="1.4"/><rect x="154.70" y="267.75" width="1.4" height="1.4"/><rect x="157.40" y="268.06" width="1.4" height="1.4"/><rect x="160.10" y="268.13" width="1.4" height="1.4"/><rect x="156.05" y="270.04" width="1.4" height="1.4"/><rect x="158.75" y="271.44" width="1.4" height="1.4"/><rect x="156.05" y="272.58" width="1.4" height="1.4"/><rect x="158.75" y="274.70" width="1.4" height="1.4"/><rect x="157.40" y="275.08" width="1.4" height="1.4"/><rect x="150.65" y="277.31" width="1.4" height="1.4"/><rect x="153.35" y="277.58" width="1.4" height="1.4"/><rect x="156.05" y="278.00" width="1.4" height="1.4"/><rect x="158.75" y="278.01" width="1.4" height="1.4"/><rect x="161.45" y="278.50" width="1.4" height="1.4"/><rect x="164.15" y="279.44" width="1.4" height="1.4"/><rect x="150.65" y="279.59" width="1.4" height="1.4"/><rect x="153.35" y="279.96" width="1.4" height="1.4"/><rect x="156.05" y="280.33" width="1.4" height="1.4"/><rect x="158.75" y="280.53" width="1.4" height="1.4"/><rect x="161.45" y="281.02" width="1.4" height="1.4"/><rect x="164.15" y="281.47" width="1.4" height="1.4"/><rect x="153.35" y="281.79" width="1.4" height="1.4"/><rect x="156.05" y="281.90" width="1.4" height="1.4"/><rect x="158.75" y="283.80" width="1.4" height="1.4"/><rect x="161.45" y="283.95" width="1.4" height="1.4"/><rect x="152.00" y="284.79" width="1.4" height="1.4"/><rect x="154.70" y="285.03" width="1.4" height="1.4"/><rect x="157.40" y="286.30" width="1.4" height="1.4"/><rect x="160.10" y="286.60" width="1.4" height="1.4"/><rect x="162.80" y="286.77" width="1.4" height="1.4"/><rect x="154.70" y="287.08" width="1.4" height="1.4"/><rect x="157.40" y="287.10" width="1.4" height="1.4"/><rect x="160.10" y="289.23" width="1.4" height="1.4"/><rect x="157.40" y="289.33" width="1.4" height="1.4"/><rect x="150.65" y="294.50" width="1.4" height="1.4"/><rect x="153.35" y="295.55" width="1.4" height="1.4"/><rect x="156.05" y="295.65" width="1.4" height="1.4"/><rect x="158.75" y="295.70" width="1.4" height="1.4"/><rect x="161.45" y="296.11" width="1.4" height="1.4"/><rect x="164.15" y="296.52" width="1.4" height="1.4"/><rect x="154.70" y="297.15" width="1.4" height="1.4"/><rect x="157.40" y="298.82" width="1.4" height="1.4"/><rect x="160.10" y="299.03" width="1.4" height="1.4"/><rect x="156.05" y="302.49" width="1.4" height="1.4"/><rect x="158.75" y="304.53" width="1.4" height="1.4"/><rect x="157.40" y="306.28" width="1.4" height="1.4"/><rect x="157.40" y="309.00" width="1.4" height="1.4"/><rect x="157.40" y="319.20" width="1.4" height="1.4"/></g><g stroke="#1f7cf2"><line x1="150.40" y1="283.30" x2="165.80" y2="283.30" stroke-width="1.8"/><line x1="158.10" y1="268.00" x2="158.10" y2="298.40" stroke-width="1"/><line x1="154.50" y1="268.00" x2="161.70" y2="268.00" stroke-width="1.1"/><line x1="154.50" y1="298.40" x2="161.70" y2="298.40" stroke-width="1.1"/></g>
<g fill="#111"><rect x="174.20" y="239.90" width="1.4" height="1.4"/><rect x="172.85" y="244.30" width="1.4" height="1.4"/><rect x="175.55" y="246.40" width="1.4" height="1.4"/><rect x="171.50" y="250.60" width="1.4" height="1.4"/><rect x="174.20" y="250.93" width="1.4" height="1.4"/><rect x="176.90" y="252.57" width="1.4" height="1.4"/><rect x="172.85" y="252.86" width="1.4" height="1.4"/><rect x="175.55" y="254.51" width="1.4" height="1.4"/><rect x="172.85" y="260.90" width="1.4" height="1.4"/><rect x="175.55" y="261.29" width="1.4" height="1.4"/><rect x="170.15" y="266.03" width="1.4" height="1.4"/><rect x="172.85" y="266.14" width="1.4" height="1.4"/><rect x="175.55" y="266.29" width="1.4" height="1.4"/><rect x="178.25" y="267.27" width="1.4" height="1.4"/><rect x="172.85" y="268.80" width="1.4" height="1.4"/><rect x="175.55" y="270.98" width="1.4" height="1.4"/><rect x="172.85" y="274.29" width="1.4" height="1.4"/><rect x="175.55" y="276.27" width="1.4" height="1.4"/><rect x="174.20" y="276.88" width="1.4" height="1.4"/><rect x="172.85" y="280.21" width="1.4" height="1.4"/><rect x="175.55" y="281.89" width="1.4" height="1.4"/><rect x="170.15" y="282.61" width="1.4" height="1.4"/><rect x="172.85" y="284.11" width="1.4" height="1.4"/><rect x="175.55" y="284.22" width="1.4" height="1.4"/><rect x="178.25" y="284.24" width="1.4" height="1.4"/><rect x="172.85" y="285.69" width="1.4" height="1.4"/><rect x="175.55" y="287.71" width="1.4" height="1.4"/><rect x="171.50" y="291.31" width="1.4" height="1.4"/><rect x="174.20" y="291.86" width="1.4" height="1.4"/><rect x="176.90" y="292.33" width="1.4" height="1.4"/><rect x="167.45" y="293.77" width="1.4" height="1.4"/><rect x="170.15" y="294.35" width="1.4" height="1.4"/><rect x="172.85" y="294.92" width="1.4" height="1.4"/><rect x="175.55" y="295.20" width="1.4" height="1.4"/><rect x="178.25" y="295.36" width="1.4" height="1.4"/><rect x="180.95" y="295.56" width="1.4" height="1.4"/><rect x="174.20" y="297.18" width="1.4" height="1.4"/><rect x="168.80" y="300.64" width="1.4" height="1.4"/><rect x="171.50" y="300.77" width="1.4" height="1.4"/><rect x="174.20" y="301.72" width="1.4" height="1.4"/><rect x="176.90" y="301.93" width="1.4" height="1.4"/><rect x="179.60" y="302.78" width="1.4" height="1.4"/><rect x="172.85" y="303.03" width="1.4" height="1.4"/><rect x="175.55" y="304.19" width="1.4" height="1.4"/><rect x="174.20" y="305.30" width="1.4" height="1.4"/><rect x="174.20" y="314.10" width="1.4" height="1.4"/></g><g stroke="#111"><line x1="167.20" y1="282.90" x2="182.60" y2="282.90" stroke-width="1.8"/><line x1="174.90" y1="267.50" x2="174.90" y2="297.80" stroke-width="1"/><line x1="171.30" y1="267.50" x2="178.50" y2="267.50" stroke-width="1.1"/><line x1="171.30" y1="297.80" x2="178.50" y2="297.80" stroke-width="1.1"/></g>
<g fill="#1f7cf2"><rect x="198.00" y="302.10" width="1.4" height="1.4"/><rect x="200.70" y="303.47" width="1.4" height="1.4"/><rect x="203.40" y="303.79" width="1.4" height="1.4"/><rect x="198.00" y="308.17" width="1.4" height="1.4"/><rect x="200.70" y="308.61" width="1.4" height="1.4"/><rect x="203.40" y="309.13" width="1.4" height="1.4"/><rect x="200.70" y="310.47" width="1.4" height="1.4"/><rect x="193.95" y="314.53" width="1.4" height="1.4"/><rect x="196.65" y="314.54" width="1.4" height="1.4"/><rect x="199.35" y="314.68" width="1.4" height="1.4"/><rect x="202.05" y="314.93" width="1.4" height="1.4"/><rect x="204.75" y="315.21" width="1.4" height="1.4"/><rect x="207.45" y="315.85" width="1.4" height="1.4"/><rect x="198.00" y="318.46" width="1.4" height="1.4"/><rect x="200.70" y="318.98" width="1.4" height="1.4"/><rect x="203.40" y="320.55" width="1.4" height="1.4"/><rect x="192.60" y="320.79" width="1.4" height="1.4"/><rect x="195.30" y="321.81" width="1.4" height="1.4"/><rect x="198.00" y="322.00" width="1.4" height="1.4"/><rect x="200.70" y="322.34" width="1.4" height="1.4"/><rect x="203.40" y="322.59" width="1.4" height="1.4"/><rect x="206.10" y="322.77" width="1.4" height="1.4"/><rect x="208.80" y="322.91" width="1.4" height="1.4"/><rect x="198.00" y="323.36" width="1.4" height="1.4"/><rect x="200.70" y="324.12" width="1.4" height="1.4"/><rect x="203.40" y="325.03" width="1.4" height="1.4"/><rect x="198.00" y="325.86" width="1.4" height="1.4"/><rect x="200.70" y="327.80" width="1.4" height="1.4"/><rect x="203.40" y="327.87" width="1.4" height="1.4"/><rect x="193.95" y="328.82" width="1.4" height="1.4"/><rect x="196.65" y="328.86" width="1.4" height="1.4"/><rect x="199.35" y="329.11" width="1.4" height="1.4"/><rect x="202.05" y="329.35" width="1.4" height="1.4"/><rect x="204.75" y="330.96" width="1.4" height="1.4"/><rect x="207.45" y="331.00" width="1.4" height="1.4"/><rect x="196.65" y="332.47" width="1.4" height="1.4"/><rect x="199.35" y="333.66" width="1.4" height="1.4"/><rect x="202.05" y="333.96" width="1.4" height="1.4"/><rect x="204.75" y="334.25" width="1.4" height="1.4"/><rect x="195.30" y="336.05" width="1.4" height="1.4"/><rect x="198.00" y="336.17" width="1.4" height="1.4"/><rect x="200.70" y="336.31" width="1.4" height="1.4"/><rect x="203.40" y="337.72" width="1.4" height="1.4"/><rect x="206.10" y="338.13" width="1.4" height="1.4"/><rect x="195.30" y="338.81" width="1.4" height="1.4"/><rect x="198.00" y="339.30" width="1.4" height="1.4"/><rect x="200.70" y="339.33" width="1.4" height="1.4"/><rect x="203.40" y="339.53" width="1.4" height="1.4"/><rect x="206.10" y="339.61" width="1.4" height="1.4"/><rect x="196.65" y="341.25" width="1.4" height="1.4"/><rect x="199.35" y="341.30" width="1.4" height="1.4"/><rect x="202.05" y="341.73" width="1.4" height="1.4"/><rect x="204.75" y="342.49" width="1.4" height="1.4"/><rect x="198.00" y="346.82" width="1.4" height="1.4"/><rect x="200.70" y="347.39" width="1.4" height="1.4"/><rect x="203.40" y="348.40" width="1.4" height="1.4"/><rect x="198.00" y="350.56" width="1.4" height="1.4"/><rect x="200.70" y="351.62" width="1.4" height="1.4"/><rect x="203.40" y="352.25" width="1.4" height="1.4"/><rect x="198.00" y="354.34" width="1.4" height="1.4"/><rect x="200.70" y="354.93" width="1.4" height="1.4"/><rect x="203.40" y="355.30" width="1.4" height="1.4"/><rect x="200.70" y="362.90" width="1.4" height="1.4"/><rect x="200.70" y="365.40" width="1.4" height="1.4"/></g><g stroke="#1f7cf2"><line x1="193.70" y1="328.70" x2="209.10" y2="328.70" stroke-width="1.8"/><line x1="201.40" y1="315.00" x2="201.40" y2="342.10" stroke-width="1"/><line x1="197.80" y1="315.00" x2="205.00" y2="315.00" stroke-width="1.1"/><line x1="197.80" y1="342.10" x2="205.00" y2="342.10" stroke-width="1.1"/></g>
<g fill="#111"><rect x="216.80" y="285.70" width="1.4" height="1.4"/><rect x="215.45" y="300.90" width="1.4" height="1.4"/><rect x="218.15" y="302.50" width="1.4" height="1.4"/><rect x="215.45" y="304.04" width="1.4" height="1.4"/><rect x="218.15" y="304.51" width="1.4" height="1.4"/><rect x="214.10" y="309.48" width="1.4" height="1.4"/><rect x="216.80" y="311.33" width="1.4" height="1.4"/><rect x="219.50" y="311.67" width="1.4" height="1.4"/><rect x="211.40" y="311.75" width="1.4" height="1.4"/><rect x="214.10" y="311.77" width="1.4" height="1.4"/><rect x="216.80" y="311.79" width="1.4" height="1.4"/><rect x="219.50" y="311.85" width="1.4" height="1.4"/><rect x="222.20" y="313.82" width="1.4" height="1.4"/><rect x="214.10" y="314.38" width="1.4" height="1.4"/><rect x="216.80" y="314.87" width="1.4" height="1.4"/><rect x="219.50" y="316.15" width="1.4" height="1.4"/><rect x="210.05" y="317.07" width="1.4" height="1.4"/><rect x="212.75" y="317.41" width="1.4" height="1.4"/><rect x="215.45" y="318.22" width="1.4" height="1.4"/><rect x="218.15" y="318.33" width="1.4" height="1.4"/><rect x="220.85" y="318.80" width="1.4" height="1.4"/><rect x="223.55" y="319.17" width="1.4" height="1.4"/><rect x="215.45" y="320.69" width="1.4" height="1.4"/><rect x="218.15" y="322.89" width="1.4" height="1.4"/><rect x="211.40" y="323.11" width="1.4" height="1.4"/><rect x="214.10" y="323.26" width="1.4" height="1.4"/><rect x="216.80" y="323.83" width="1.4" height="1.4"/><rect x="219.50" y="324.83" width="1.4" height="1.4"/><rect x="222.20" y="324.84" width="1.4" height="1.4"/><rect x="214.10" y="326.65" width="1.4" height="1.4"/><rect x="216.80" y="328.28" width="1.4" height="1.4"/><rect x="219.50" y="328.81" width="1.4" height="1.4"/><rect x="215.45" y="331.80" width="1.4" height="1.4"/><rect x="218.15" y="333.22" width="1.4" height="1.4"/><rect x="214.10" y="334.41" width="1.4" height="1.4"/><rect x="216.80" y="335.12" width="1.4" height="1.4"/><rect x="219.50" y="335.59" width="1.4" height="1.4"/><rect x="214.10" y="338.83" width="1.4" height="1.4"/><rect x="216.80" y="339.17" width="1.4" height="1.4"/><rect x="219.50" y="340.90" width="1.4" height="1.4"/><rect x="216.80" y="342.79" width="1.4" height="1.4"/><rect x="215.45" y="346.55" width="1.4" height="1.4"/><rect x="218.15" y="346.96" width="1.4" height="1.4"/><rect x="214.10" y="353.45" width="1.4" height="1.4"/><rect x="216.80" y="353.93" width="1.4" height="1.4"/><rect x="219.50" y="355.30" width="1.4" height="1.4"/></g><g stroke="#111"><line x1="209.80" y1="328.70" x2="225.20" y2="328.70" stroke-width="1.8"/><line x1="217.50" y1="315.00" x2="217.50" y2="342.80" stroke-width="1"/><line x1="213.90" y1="315.00" x2="221.10" y2="315.00" stroke-width="1.1"/><line x1="213.90" y1="342.80" x2="221.10" y2="342.80" stroke-width="1.1"/></g>
<g fill="#1f7cf2"><rect x="244.00" y="300.40" width="1.4" height="1.4"/><rect x="244.00" y="303.61" width="1.4" height="1.4"/><rect x="244.00" y="308.63" width="1.4" height="1.4"/><rect x="242.65" y="311.10" width="1.4" height="1.4"/><rect x="245.35" y="311.45" width="1.4" height="1.4"/><rect x="241.30" y="313.93" width="1.4" height="1.4"/><rect x="244.00" y="314.64" width="1.4" height="1.4"/><rect x="246.70" y="315.90" width="1.4" height="1.4"/><rect x="239.95" y="317.41" width="1.4" height="1.4"/><rect x="242.65" y="317.90" width="1.4" height="1.4"/><rect x="245.35" y="318.69" width="1.4" height="1.4"/><rect x="248.05" y="318.96" width="1.4" height="1.4"/><rect x="239.95" y="321.67" width="1.4" height="1.4"/><rect x="242.65" y="322.17" width="1.4" height="1.4"/><rect x="245.35" y="322.64" width="1.4" height="1.4"/><rect x="248.05" y="323.70" width="1.4" height="1.4"/><rect x="237.25" y="324.08" width="1.4" height="1.4"/><rect x="239.95" y="324.60" width="1.4" height="1.4"/><rect x="242.65" y="324.74" width="1.4" height="1.4"/><rect x="245.35" y="324.83" width="1.4" height="1.4"/><rect x="248.05" y="325.00" width="1.4" height="1.4"/><rect x="250.75" y="325.79" width="1.4" height="1.4"/><rect x="235.90" y="327.12" width="1.4" height="1.4"/><rect x="238.60" y="327.14" width="1.4" height="1.4"/><rect x="241.30" y="327.59" width="1.4" height="1.4"/><rect x="244.00" y="327.71" width="1.4" height="1.4"/><rect x="246.70" y="327.89" width="1.4" height="1.4"/><rect x="249.40" y="327.91" width="1.4" height="1.4"/><rect x="252.10" y="328.09" width="1.4" height="1.4"/><rect x="239.95" y="328.71" width="1.4" height="1.4"/><rect x="242.65" y="329.17" width="1.4" height="1.4"/><rect x="245.35" y="329.28" width="1.4" height="1.4"/><rect x="248.05" y="330.11" width="1.4" height="1.4"/><rect x="241.30" y="331.97" width="1.4" height="1.4"/><rect x="244.00" y="332.04" width="1.4" height="1.4"/><rect x="246.70" y="332.20" width="1.4" height="1.4"/><rect x="241.30" y="334.21" width="1.4" height="1.4"/><rect x="244.00" y="335.27" width="1.4" height="1.4"/><rect x="246.70" y="336.18" width="1.4" height="1.4"/><rect x="239.95" y="336.63" width="1.4" height="1.4"/><rect x="242.65" y="337.85" width="1.4" height="1.4"/><rect x="245.35" y="338.31" width="1.4" height="1.4"/><rect x="248.05" y="338.50" width="1.4" height="1.4"/><rect x="242.65" y="339.17" width="1.4" height="1.4"/><rect x="245.35" y="340.36" width="1.4" height="1.4"/><rect x="239.95" y="341.90" width="1.4" height="1.4"/><rect x="242.65" y="342.09" width="1.4" height="1.4"/><rect x="245.35" y="343.01" width="1.4" height="1.4"/><rect x="248.05" y="343.24" width="1.4" height="1.4"/><rect x="241.30" y="344.34" width="1.4" height="1.4"/><rect x="244.00" y="344.82" width="1.4" height="1.4"/><rect x="246.70" y="345.19" width="1.4" height="1.4"/><rect x="242.65" y="348.33" width="1.4" height="1.4"/><rect x="245.35" y="350.38" width="1.4" height="1.4"/><rect x="242.65" y="353.14" width="1.4" height="1.4"/><rect x="245.35" y="354.32" width="1.4" height="1.4"/><rect x="242.65" y="355.41" width="1.4" height="1.4"/><rect x="245.35" y="355.64" width="1.4" height="1.4"/><rect x="239.95" y="358.78" width="1.4" height="1.4"/><rect x="242.65" y="359.00" width="1.4" height="1.4"/><rect x="245.35" y="359.66" width="1.4" height="1.4"/><rect x="248.05" y="359.87" width="1.4" height="1.4"/><rect x="242.65" y="363.95" width="1.4" height="1.4"/><rect x="245.35" y="364.20" width="1.4" height="1.4"/></g><g stroke="#1f7cf2"><line x1="237.00" y1="332.00" x2="252.40" y2="332.00" stroke-width="1.8"/><line x1="244.70" y1="316.80" x2="244.70" y2="346.60" stroke-width="1"/><line x1="241.10" y1="316.80" x2="248.30" y2="316.80" stroke-width="1.1"/><line x1="241.10" y1="346.60" x2="248.30" y2="346.60" stroke-width="1.1"/></g>
<g fill="#111"><rect x="260.30" y="296.60" width="1.4" height="1.4"/><rect x="258.95" y="299.28" width="1.4" height="1.4"/><rect x="261.65" y="299.95" width="1.4" height="1.4"/><rect x="257.60" y="303.27" width="1.4" height="1.4"/><rect x="260.30" y="303.67" width="1.4" height="1.4"/><rect x="263.00" y="304.26" width="1.4" height="1.4"/><rect x="260.30" y="306.48" width="1.4" height="1.4"/><rect x="260.30" y="309.47" width="1.4" height="1.4"/><rect x="256.25" y="312.23" width="1.4" height="1.4"/><rect x="258.95" y="313.88" width="1.4" height="1.4"/><rect x="261.65" y="313.91" width="1.4" height="1.4"/><rect x="264.35" y="314.34" width="1.4" height="1.4"/><rect x="257.60" y="314.60" width="1.4" height="1.4"/><rect x="260.30" y="316.11" width="1.4" height="1.4"/><rect x="263.00" y="316.65" width="1.4" height="1.4"/><rect x="258.95" y="317.03" width="1.4" height="1.4"/><rect x="261.65" y="317.28" width="1.4" height="1.4"/><rect x="258.95" y="320.90" width="1.4" height="1.4"/><rect x="261.65" y="321.43" width="1.4" height="1.4"/><rect x="258.95" y="323.61" width="1.4" height="1.4"/><rect x="261.65" y="324.99" width="1.4" height="1.4"/><rect x="257.60" y="326.21" width="1.4" height="1.4"/><rect x="260.30" y="326.69" width="1.4" height="1.4"/><rect x="263.00" y="327.97" width="1.4" height="1.4"/><rect x="257.60" y="329.42" width="1.4" height="1.4"/><rect x="260.30" y="331.12" width="1.4" height="1.4"/><rect x="263.00" y="331.25" width="1.4" height="1.4"/><rect x="256.25" y="331.78" width="1.4" height="1.4"/><rect x="258.95" y="331.82" width="1.4" height="1.4"/><rect x="261.65" y="332.61" width="1.4" height="1.4"/><rect x="264.35" y="332.70" width="1.4" height="1.4"/><rect x="257.60" y="336.31" width="1.4" height="1.4"/><rect x="260.30" y="336.97" width="1.4" height="1.4"/><rect x="263.00" y="337.31" width="1.4" height="1.4"/><rect x="257.60" y="339.22" width="1.4" height="1.4"/><rect x="260.30" y="340.59" width="1.4" height="1.4"/><rect x="263.00" y="341.34" width="1.4" height="1.4"/><rect x="258.95" y="343.59" width="1.4" height="1.4"/><rect x="261.65" y="344.86" width="1.4" height="1.4"/><rect x="260.30" y="346.56" width="1.4" height="1.4"/><rect x="258.95" y="351.70" width="1.4" height="1.4"/><rect x="261.65" y="353.73" width="1.4" height="1.4"/><rect x="257.60" y="354.23" width="1.4" height="1.4"/><rect x="260.30" y="354.36" width="1.4" height="1.4"/><rect x="263.00" y="355.30" width="1.4" height="1.4"/><rect x="260.30" y="366.70" width="1.4" height="1.4"/></g><g stroke="#111"><line x1="253.30" y1="325.60" x2="268.70" y2="325.60" stroke-width="1.8"/><line x1="261.00" y1="310.40" x2="261.00" y2="340.80" stroke-width="1"/><line x1="257.40" y1="310.40" x2="264.60" y2="310.40" stroke-width="1.1"/><line x1="257.40" y1="340.80" x2="264.60" y2="340.80" stroke-width="1.1"/></g>
<g fill="#1f7cf2"><rect x="421.20" y="263.90" width="1.4" height="1.4"/><rect x="419.85" y="276.50" width="1.4" height="1.4"/><rect x="422.55" y="278.30" width="1.4" height="1.4"/><rect x="419.85" y="279.10" width="1.4" height="1.4"/><rect x="422.55" y="279.93" width="1.4" height="1.4"/><rect x="417.15" y="283.32" width="1.4" height="1.4"/><rect x="419.85" y="283.34" width="1.4" height="1.4"/><rect x="422.55" y="284.42" width="1.4" height="1.4"/><rect x="425.25" y="284.43" width="1.4" height="1.4"/><rect x="417.15" y="285.72" width="1.4" height="1.4"/><rect x="419.85" y="285.83" width="1.4" height="1.4"/><rect x="422.55" y="286.27" width="1.4" height="1.4"/><rect x="425.25" y="287.68" width="1.4" height="1.4"/><rect x="413.10" y="288.50" width="1.4" height="1.4"/><rect x="415.80" y="288.71" width="1.4" height="1.4"/><rect x="418.50" y="288.95" width="1.4" height="1.4"/><rect x="421.20" y="289.24" width="1.4" height="1.4"/><rect x="423.90" y="289.53" width="1.4" height="1.4"/><rect x="426.60" y="289.59" width="1.4" height="1.4"/><rect x="429.30" y="289.63" width="1.4" height="1.4"/><rect x="421.20" y="290.18" width="1.4" height="1.4"/><rect x="415.80" y="293.22" width="1.4" height="1.4"/><rect x="418.50" y="294.14" width="1.4" height="1.4"/><rect x="421.20" y="294.30" width="1.4" height="1.4"/><rect x="423.90" y="294.36" width="1.4" height="1.4"/><rect x="426.60" y="295.09" width="1.4" height="1.4"/><rect x="415.80" y="295.44" width="1.4" height="1.4"/><rect x="418.50" y="296.47" width="1.4" height="1.4"/><rect x="421.20" y="296.60" width="1.4" height="1.4"/><rect x="423.90" y="296.84" width="1.4" height="1.4"/><rect x="426.60" y="297.19" width="1.4" height="1.4"/><rect x="421.20" y="298.46" width="1.4" height="1.4"/><rect x="417.15" y="301.58" width="1.4" height="1.4"/><rect x="419.85" y="301.94" width="1.4" height="1.4"/><rect x="422.55" y="301.99" width="1.4" height="1.4"/><rect x="425.25" y="303.33" width="1.4" height="1.4"/><rect x="414.45" y="304.73" width="1.4" height="1.4"/><rect x="417.15" y="305.35" width="1.4" height="1.4"/><rect x="419.85" y="305.57" width="1.4" height="1.4"/><rect x="422.55" y="305.73" width="1.4" height="1.4"/><rect x="425.25" y="306.14" width="1.4" height="1.4"/><rect x="427.95" y="306.60" width="1.4" height="1.4"/><rect x="417.15" y="306.95" width="1.4" height="1.4"/><rect x="419.85" y="308.71" width="1.4" height="1.4"/><rect x="422.55" y="308.91" width="1.4" height="1.4"/><rect x="425.25" y="309.14" width="1.4" height="1.4"/><rect x="418.50" y="309.81" width="1.4" height="1.4"/><rect x="421.20" y="311.14" width="1.4" height="1.4"/><rect x="423.90" y="311.43" width="1.4" height="1.4"/><rect x="417.15" y="313.17" width="1.4" height="1.4"/><rect x="419.85" y="313.18" width="1.4" height="1.4"/><rect x="422.55" y="313.28" width="1.4" height="1.4"/><rect x="425.25" y="314.68" width="1.4" height="1.4"/><rect x="417.15" y="318.48" width="1.4" height="1.4"/><rect x="419.85" y="319.32" width="1.4" height="1.4"/><rect x="422.55" y="319.41" width="1.4" height="1.4"/><rect x="425.25" y="319.80" width="1.4" height="1.4"/><rect x="415.80" y="320.80" width="1.4" height="1.4"/><rect x="418.50" y="321.68" width="1.4" height="1.4"/><rect x="421.20" y="322.01" width="1.4" height="1.4"/><rect x="423.90" y="322.22" width="1.4" height="1.4"/><rect x="426.60" y="322.50" width="1.4" height="1.4"/><rect x="421.20" y="331.30" width="1.4" height="1.4"/><rect x="421.20" y="352.30" width="1.4" height="1.4"/></g><g stroke="#1f7cf2"><line x1="414.20" y1="301.60" x2="429.60" y2="301.60" stroke-width="1.8"/><line x1="421.90" y1="287.30" x2="421.90" y2="315.10" stroke-width="1"/><line x1="418.30" y1="287.30" x2="425.50" y2="287.30" stroke-width="1.1"/><line x1="418.30" y1="315.10" x2="425.50" y2="315.10" stroke-width="1.1"/></g>
<g fill="#111"><rect x="438.20" y="273.00" width="1.4" height="1.4"/><rect x="434.15" y="280.00" width="1.4" height="1.4"/><rect x="436.85" y="280.05" width="1.4" height="1.4"/><rect x="439.55" y="280.63" width="1.4" height="1.4"/><rect x="442.25" y="281.28" width="1.4" height="1.4"/><rect x="435.50" y="282.30" width="1.4" height="1.4"/><rect x="438.20" y="282.86" width="1.4" height="1.4"/><rect x="440.90" y="284.34" width="1.4" height="1.4"/><rect x="432.80" y="285.11" width="1.4" height="1.4"/><rect x="435.50" y="285.56" width="1.4" height="1.4"/><rect x="438.20" y="285.89" width="1.4" height="1.4"/><rect x="440.90" y="286.10" width="1.4" height="1.4"/><rect x="443.60" y="287.26" width="1.4" height="1.4"/><rect x="432.80" y="287.39" width="1.4" height="1.4"/><rect x="435.50" y="287.52" width="1.4" height="1.4"/><rect x="438.20" y="288.61" width="1.4" height="1.4"/><rect x="440.90" y="288.97" width="1.4" height="1.4"/><rect x="443.60" y="289.44" width="1.4" height="1.4"/><rect x="435.50" y="289.86" width="1.4" height="1.4"/><rect x="438.20" y="291.50" width="1.4" height="1.4"/><rect x="440.90" y="291.67" width="1.4" height="1.4"/><rect x="435.50" y="292.19" width="1.4" height="1.4"/><rect x="438.20" y="292.80" width="1.4" height="1.4"/><rect x="440.90" y="293.26" width="1.4" height="1.4"/><rect x="432.80" y="296.38" width="1.4" height="1.4"/><rect x="435.50" y="296.70" width="1.4" height="1.4"/><rect x="438.20" y="297.04" width="1.4" height="1.4"/><rect x="440.90" y="298.18" width="1.4" height="1.4"/><rect x="443.60" y="298.36" width="1.4" height="1.4"/><rect x="438.20" y="298.65" width="1.4" height="1.4"/><rect x="432.80" y="302.25" width="1.4" height="1.4"/><rect x="435.50" y="302.55" width="1.4" height="1.4"/><rect x="438.20" y="302.78" width="1.4" height="1.4"/><rect x="440.90" y="303.29" width="1.4" height="1.4"/><rect x="443.60" y="303.76" width="1.4" height="1.4"/><rect x="434.15" y="305.24" width="1.4" height="1.4"/><rect x="436.85" y="306.05" width="1.4" height="1.4"/><rect x="439.55" y="306.29" width="1.4" height="1.4"/><rect x="442.25" y="306.29" width="1.4" height="1.4"/><rect x="436.85" y="307.89" width="1.4" height="1.4"/><rect x="439.55" y="308.74" width="1.4" height="1.4"/><rect x="435.50" y="310.25" width="1.4" height="1.4"/><rect x="438.20" y="311.21" width="1.4" height="1.4"/><rect x="440.90" y="311.79" width="1.4" height="1.4"/><rect x="438.20" y="313.71" width="1.4" height="1.4"/><rect x="438.20" y="316.10" width="1.4" height="1.4"/></g><g stroke="#111"><line x1="431.20" y1="296.60" x2="446.60" y2="296.60" stroke-width="1.8"/><line x1="438.90" y1="287.70" x2="438.90" y2="305.40" stroke-width="1"/><line x1="435.30" y1="287.70" x2="442.50" y2="287.70" stroke-width="1.1"/><line x1="435.30" y1="305.40" x2="442.50" y2="305.40" stroke-width="1.1"/></g>
<g fill="#1f7cf2"><rect x="464.45" y="270.60" width="1.4" height="1.4"/><rect x="467.15" y="272.26" width="1.4" height="1.4"/><rect x="464.45" y="276.69" width="1.4" height="1.4"/><rect x="467.15" y="278.88" width="1.4" height="1.4"/><rect x="464.45" y="279.20" width="1.4" height="1.4"/><rect x="467.15" y="279.35" width="1.4" height="1.4"/><rect x="460.40" y="283.32" width="1.4" height="1.4"/><rect x="463.10" y="283.76" width="1.4" height="1.4"/><rect x="465.80" y="283.90" width="1.4" height="1.4"/><rect x="468.50" y="284.11" width="1.4" height="1.4"/><rect x="471.20" y="284.15" width="1.4" height="1.4"/><rect x="461.75" y="285.55" width="1.4" height="1.4"/><rect x="464.45" y="287.34" width="1.4" height="1.4"/><rect x="467.15" y="287.39" width="1.4" height="1.4"/><rect x="469.85" y="287.68" width="1.4" height="1.4"/><rect x="463.10" y="288.13" width="1.4" height="1.4"/><rect x="465.80" y="288.59" width="1.4" height="1.4"/><rect x="468.50" y="289.81" width="1.4" height="1.4"/><rect x="457.70" y="290.98" width="1.4" height="1.4"/><rect x="460.40" y="291.08" width="1.4" height="1.4"/><rect x="463.10" y="291.15" width="1.4" height="1.4"/><rect x="465.80" y="291.42" width="1.4" height="1.4"/><rect x="468.50" y="292.04" width="1.4" height="1.4"/><rect x="471.20" y="292.15" width="1.4" height="1.4"/><rect x="473.90" y="292.33" width="1.4" height="1.4"/><rect x="463.10" y="292.59" width="1.4" height="1.4"/><rect x="465.80" y="292.77" width="1.4" height="1.4"/><rect x="468.50" y="294.03" width="1.4" height="1.4"/><rect x="461.75" y="295.24" width="1.4" height="1.4"/><rect x="464.45" y="296.28" width="1.4" height="1.4"/><rect x="467.15" y="296.89" width="1.4" height="1.4"/><rect x="469.85" y="297.29" width="1.4" height="1.4"/><rect x="459.05" y="297.79" width="1.4" height="1.4"/><rect x="461.75" y="298.51" width="1.4" height="1.4"/><rect x="464.45" y="298.74" width="1.4" height="1.4"/><rect x="467.15" y="299.41" width="1.4" height="1.4"/><rect x="469.85" y="299.52" width="1.4" height="1.4"/><rect x="472.55" y="299.86" width="1.4" height="1.4"/><rect x="461.75" y="300.38" width="1.4" height="1.4"/><rect x="464.45" y="300.51" width="1.4" height="1.4"/><rect x="467.15" y="302.04" width="1.4" height="1.4"/><rect x="469.85" y="302.35" width="1.4" height="1.4"/><rect x="459.05" y="302.84" width="1.4" height="1.4"/><rect x="461.75" y="302.95" width="1.4" height="1.4"/><rect x="464.45" y="303.49" width="1.4" height="1.4"/><rect x="467.15" y="303.49" width="1.4" height="1.4"/><rect x="469.85" y="303.55" width="1.4" height="1.4"/><rect x="472.55" y="304.48" width="1.4" height="1.4"/><rect x="461.75" y="306.40" width="1.4" height="1.4"/><rect x="464.45" y="306.82" width="1.4" height="1.4"/><rect x="467.15" y="306.91" width="1.4" height="1.4"/><rect x="469.85" y="308.26" width="1.4" height="1.4"/><rect x="464.45" y="309.56" width="1.4" height="1.4"/><rect x="467.15" y="310.86" width="1.4" height="1.4"/><rect x="461.75" y="312.11" width="1.4" height="1.4"/><rect x="464.45" y="313.04" width="1.4" height="1.4"/><rect x="467.15" y="313.36" width="1.4" height="1.4"/><rect x="469.85" y="314.04" width="1.4" height="1.4"/><rect x="464.45" y="315.20" width="1.4" height="1.4"/><rect x="467.15" y="316.24" width="1.4" height="1.4"/><rect x="464.45" y="317.96" width="1.4" height="1.4"/><rect x="467.15" y="319.18" width="1.4" height="1.4"/><rect x="465.80" y="321.30" width="1.4" height="1.4"/><rect x="465.80" y="330.60" width="1.4" height="1.4"/></g><g stroke="#1f7cf2"><line x1="458.80" y1="299.90" x2="474.20" y2="299.90" stroke-width="1.8"/><line x1="466.50" y1="289.00" x2="466.50" y2="310.60" stroke-width="1"/><line x1="462.90" y1="289.00" x2="470.10" y2="289.00" stroke-width="1.1"/><line x1="462.90" y1="310.60" x2="470.10" y2="310.60" stroke-width="1.1"/></g>
<g fill="#111"><rect x="483.00" y="277.00" width="1.4" height="1.4"/><rect x="483.00" y="282.00" width="1.4" height="1.4"/><rect x="483.00" y="288.30" width="1.4" height="1.4"/><rect x="480.30" y="293.05" width="1.4" height="1.4"/><rect x="483.00" y="294.50" width="1.4" height="1.4"/><rect x="485.70" y="294.94" width="1.4" height="1.4"/><rect x="481.65" y="296.07" width="1.4" height="1.4"/><rect x="484.35" y="297.79" width="1.4" height="1.4"/><rect x="480.30" y="299.85" width="1.4" height="1.4"/><rect x="483.00" y="301.39" width="1.4" height="1.4"/><rect x="485.70" y="301.63" width="1.4" height="1.4"/><rect x="476.25" y="302.29" width="1.4" height="1.4"/><rect x="478.95" y="302.51" width="1.4" height="1.4"/><rect x="481.65" y="302.58" width="1.4" height="1.4"/><rect x="484.35" y="302.88" width="1.4" height="1.4"/><rect x="487.05" y="303.35" width="1.4" height="1.4"/><rect x="489.75" y="303.60" width="1.4" height="1.4"/><rect x="478.95" y="305.20" width="1.4" height="1.4"/><rect x="481.65" y="306.04" width="1.4" height="1.4"/><rect x="484.35" y="307.01" width="1.4" height="1.4"/><rect x="487.05" y="307.01" width="1.4" height="1.4"/><rect x="476.25" y="309.61" width="1.4" height="1.4"/><rect x="478.95" y="310.30" width="1.4" height="1.4"/><rect x="481.65" y="310.80" width="1.4" height="1.4"/><rect x="484.35" y="311.43" width="1.4" height="1.4"/><rect x="487.05" y="311.66" width="1.4" height="1.4"/><rect x="489.75" y="311.80" width="1.4" height="1.4"/><rect x="478.95" y="311.89" width="1.4" height="1.4"/><rect x="481.65" y="312.45" width="1.4" height="1.4"/><rect x="484.35" y="312.55" width="1.4" height="1.4"/><rect x="487.05" y="313.35" width="1.4" height="1.4"/><rect x="477.60" y="316.98" width="1.4" height="1.4"/><rect x="480.30" y="317.12" width="1.4" height="1.4"/><rect x="483.00" y="317.96" width="1.4" height="1.4"/><rect x="485.70" y="318.52" width="1.4" height="1.4"/><rect x="488.40" y="318.84" width="1.4" height="1.4"/><rect x="478.95" y="319.27" width="1.4" height="1.4"/><rect x="481.65" y="319.41" width="1.4" height="1.4"/><rect x="484.35" y="320.35" width="1.4" height="1.4"/><rect x="487.05" y="320.54" width="1.4" height="1.4"/><rect x="480.30" y="322.25" width="1.4" height="1.4"/><rect x="483.00" y="323.04" width="1.4" height="1.4"/><rect x="485.70" y="323.47" width="1.4" height="1.4"/><rect x="481.65" y="324.90" width="1.4" height="1.4"/><rect x="484.35" y="325.80" width="1.4" height="1.4"/><rect x="483.00" y="329.60" width="1.4" height="1.4"/></g><g stroke="#111"><line x1="476.00" y1="310.10" x2="491.40" y2="310.10" stroke-width="1.8"/><line x1="483.70" y1="297.90" x2="483.70" y2="319.40" stroke-width="1"/><line x1="480.10" y1="297.90" x2="487.30" y2="297.90" stroke-width="1.1"/><line x1="480.10" y1="319.40" x2="487.30" y2="319.40" stroke-width="1.1"/></g>
<g fill="#1f7cf2"><rect x="509.05" y="252.10" width="1.4" height="1.4"/><rect x="511.75" y="253.79" width="1.4" height="1.4"/><rect x="509.05" y="254.66" width="1.4" height="1.4"/><rect x="511.75" y="255.49" width="1.4" height="1.4"/><rect x="507.70" y="258.00" width="1.4" height="1.4"/><rect x="510.40" y="259.69" width="1.4" height="1.4"/><rect x="513.10" y="259.93" width="1.4" height="1.4"/><rect x="507.70" y="260.34" width="1.4" height="1.4"/><rect x="510.40" y="261.09" width="1.4" height="1.4"/><rect x="513.10" y="261.29" width="1.4" height="1.4"/><rect x="507.70" y="264.48" width="1.4" height="1.4"/><rect x="510.40" y="264.66" width="1.4" height="1.4"/><rect x="513.10" y="264.82" width="1.4" height="1.4"/><rect x="505.00" y="267.22" width="1.4" height="1.4"/><rect x="507.70" y="267.84" width="1.4" height="1.4"/><rect x="510.40" y="268.80" width="1.4" height="1.4"/><rect x="513.10" y="268.99" width="1.4" height="1.4"/><rect x="515.80" y="269.34" width="1.4" height="1.4"/><rect x="509.05" y="269.77" width="1.4" height="1.4"/><rect x="511.75" y="271.14" width="1.4" height="1.4"/><rect x="503.65" y="272.46" width="1.4" height="1.4"/><rect x="506.35" y="272.54" width="1.4" height="1.4"/><rect x="509.05" y="272.80" width="1.4" height="1.4"/><rect x="511.75" y="272.89" width="1.4" height="1.4"/><rect x="514.45" y="273.27" width="1.4" height="1.4"/><rect x="517.15" y="273.46" width="1.4" height="1.4"/><rect x="507.70" y="274.96" width="1.4" height="1.4"/><rect x="510.40" y="276.61" width="1.4" height="1.4"/><rect x="513.10" y="276.87" width="1.4" height="1.4"/><rect x="503.65" y="278.18" width="1.4" height="1.4"/><rect x="506.35" y="278.26" width="1.4" height="1.4"/><rect x="509.05" y="278.83" width="1.4" height="1.4"/><rect x="511.75" y="279.34" width="1.4" height="1.4"/><rect x="514.45" y="279.41" width="1.4" height="1.4"/><rect x="517.15" y="279.70" width="1.4" height="1.4"/><rect x="503.65" y="281.95" width="1.4" height="1.4"/><rect x="506.35" y="282.13" width="1.4" height="1.4"/><rect x="509.05" y="282.28" width="1.4" height="1.4"/><rect x="511.75" y="282.46" width="1.4" height="1.4"/><rect x="514.45" y="283.70" width="1.4" height="1.4"/><rect x="517.15" y="283.85" width="1.4" height="1.4"/><rect x="502.30" y="284.74" width="1.4" height="1.4"/><rect x="505.00" y="284.75" width="1.4" height="1.4"/><rect x="507.70" y="284.85" width="1.4" height="1.4"/><rect x="510.40" y="284.86" width="1.4" height="1.4"/><rect x="513.10" y="285.02" width="1.4" height="1.4"/><rect x="515.80" y="285.08" width="1.4" height="1.4"/><rect x="518.50" y="286.16" width="1.4" height="1.4"/><rect x="503.65" y="287.23" width="1.4" height="1.4"/><rect x="506.35" y="287.60" width="1.4" height="1.4"/><rect x="509.05" y="287.91" width="1.4" height="1.4"/><rect x="511.75" y="288.58" width="1.4" height="1.4"/><rect x="514.45" y="288.89" width="1.4" height="1.4"/><rect x="517.15" y="289.42" width="1.4" height="1.4"/><rect x="507.70" y="290.54" width="1.4" height="1.4"/><rect x="510.40" y="291.58" width="1.4" height="1.4"/><rect x="513.10" y="292.67" width="1.4" height="1.4"/><rect x="505.00" y="293.87" width="1.4" height="1.4"/><rect x="507.70" y="294.26" width="1.4" height="1.4"/><rect x="510.40" y="294.96" width="1.4" height="1.4"/><rect x="513.10" y="295.01" width="1.4" height="1.4"/><rect x="515.80" y="295.45" width="1.4" height="1.4"/><rect x="510.40" y="297.70" width="1.4" height="1.4"/><rect x="510.40" y="302.70" width="1.4" height="1.4"/></g><g stroke="#1f7cf2"><line x1="503.40" y1="278.10" x2="518.80" y2="278.10" stroke-width="1.8"/><line x1="511.10" y1="267.50" x2="511.10" y2="289.50" stroke-width="1"/><line x1="507.50" y1="267.50" x2="514.70" y2="267.50" stroke-width="1.1"/><line x1="507.50" y1="289.50" x2="514.70" y2="289.50" stroke-width="1.1"/></g>
<g fill="#111"><rect x="526.55" y="259.70" width="1.4" height="1.4"/><rect x="529.25" y="259.73" width="1.4" height="1.4"/><rect x="523.85" y="265.99" width="1.4" height="1.4"/><rect x="526.55" y="266.56" width="1.4" height="1.4"/><rect x="529.25" y="267.60" width="1.4" height="1.4"/><rect x="531.95" y="268.13" width="1.4" height="1.4"/><rect x="525.20" y="268.88" width="1.4" height="1.4"/><rect x="527.90" y="269.72" width="1.4" height="1.4"/><rect x="530.60" y="270.06" width="1.4" height="1.4"/><rect x="522.50" y="272.19" width="1.4" height="1.4"/><rect x="525.20" y="272.74" width="1.4" height="1.4"/><rect x="527.90" y="273.43" width="1.4" height="1.4"/><rect x="530.60" y="273.78" width="1.4" height="1.4"/><rect x="533.30" y="273.95" width="1.4" height="1.4"/><rect x="523.85" y="274.59" width="1.4" height="1.4"/><rect x="526.55" y="274.97" width="1.4" height="1.4"/><rect x="529.25" y="276.52" width="1.4" height="1.4"/><rect x="531.95" y="276.59" width="1.4" height="1.4"/><rect x="522.50" y="276.84" width="1.4" height="1.4"/><rect x="525.20" y="277.27" width="1.4" height="1.4"/><rect x="527.90" y="277.73" width="1.4" height="1.4"/><rect x="530.60" y="278.17" width="1.4" height="1.4"/><rect x="533.30" y="278.58" width="1.4" height="1.4"/><rect x="523.85" y="279.04" width="1.4" height="1.4"/><rect x="526.55" y="279.49" width="1.4" height="1.4"/><rect x="529.25" y="279.91" width="1.4" height="1.4"/><rect x="531.95" y="280.52" width="1.4" height="1.4"/><rect x="525.20" y="282.08" width="1.4" height="1.4"/><rect x="527.90" y="282.81" width="1.4" height="1.4"/><rect x="530.60" y="283.87" width="1.4" height="1.4"/><rect x="525.20" y="284.70" width="1.4" height="1.4"/><rect x="527.90" y="285.26" width="1.4" height="1.4"/><rect x="530.60" y="286.03" width="1.4" height="1.4"/><rect x="522.50" y="287.98" width="1.4" height="1.4"/><rect x="525.20" y="288.20" width="1.4" height="1.4"/><rect x="527.90" y="288.49" width="1.4" height="1.4"/><rect x="530.60" y="288.63" width="1.4" height="1.4"/><rect x="533.30" y="290.12" width="1.4" height="1.4"/><rect x="525.20" y="290.76" width="1.4" height="1.4"/><rect x="527.90" y="291.40" width="1.4" height="1.4"/><rect x="530.60" y="292.80" width="1.4" height="1.4"/><rect x="523.85" y="294.80" width="1.4" height="1.4"/><rect x="526.55" y="294.98" width="1.4" height="1.4"/><rect x="529.25" y="295.17" width="1.4" height="1.4"/><rect x="531.95" y="297.00" width="1.4" height="1.4"/><rect x="527.90" y="297.10" width="1.4" height="1.4"/></g><g stroke="#111"><line x1="520.90" y1="276.80" x2="536.30" y2="276.80" stroke-width="1.8"/><line x1="528.60" y1="268.50" x2="528.60" y2="286.20" stroke-width="1"/><line x1="525.00" y1="268.50" x2="532.20" y2="268.50" stroke-width="1.1"/><line x1="525.00" y1="286.20" x2="532.20" y2="286.20" stroke-width="1.1"/></g>
<g fill="#1f7cf2"><rect x="550.85" y="289.60" width="1.4" height="1.4"/><rect x="553.55" y="289.80" width="1.4" height="1.4"/><rect x="556.25" y="290.30" width="1.4" height="1.4"/><rect x="558.95" y="291.40" width="1.4" height="1.4"/><rect x="553.55" y="292.16" width="1.4" height="1.4"/><rect x="556.25" y="293.12" width="1.4" height="1.4"/><rect x="549.50" y="294.42" width="1.4" height="1.4"/><rect x="552.20" y="294.82" width="1.4" height="1.4"/><rect x="554.90" y="295.59" width="1.4" height="1.4"/><rect x="557.60" y="295.76" width="1.4" height="1.4"/><rect x="560.30" y="295.79" width="1.4" height="1.4"/><rect x="554.90" y="296.71" width="1.4" height="1.4"/><rect x="554.90" y="299.39" width="1.4" height="1.4"/><rect x="552.20" y="301.94" width="1.4" height="1.4"/><rect x="554.90" y="301.95" width="1.4" height="1.4"/><rect x="557.60" y="302.16" width="1.4" height="1.4"/><rect x="552.20" y="304.93" width="1.4" height="1.4"/><rect x="554.90" y="304.97" width="1.4" height="1.4"/><rect x="557.60" y="305.21" width="1.4" height="1.4"/><rect x="550.85" y="307.78" width="1.4" height="1.4"/><rect x="553.55" y="308.14" width="1.4" height="1.4"/><rect x="556.25" y="308.46" width="1.4" height="1.4"/><rect x="558.95" y="308.83" width="1.4" height="1.4"/><rect x="552.20" y="310.32" width="1.4" height="1.4"/><rect x="554.90" y="311.35" width="1.4" height="1.4"/><rect x="557.60" y="311.55" width="1.4" height="1.4"/><rect x="549.50" y="312.77" width="1.4" height="1.4"/><rect x="552.20" y="313.89" width="1.4" height="1.4"/><rect x="554.90" y="314.05" width="1.4" height="1.4"/><rect x="557.60" y="314.49" width="1.4" height="1.4"/><rect x="560.30" y="314.54" width="1.4" height="1.4"/><rect x="549.50" y="315.64" width="1.4" height="1.4"/><rect x="552.20" y="315.86" width="1.4" height="1.4"/><rect x="554.90" y="316.26" width="1.4" height="1.4"/><rect x="557.60" y="316.53" width="1.4" height="1.4"/><rect x="560.30" y="317.32" width="1.4" height="1.4"/><rect x="546.80" y="317.99" width="1.4" height="1.4"/><rect x="549.50" y="317.99" width="1.4" height="1.4"/><rect x="552.20" y="318.26" width="1.4" height="1.4"/><rect x="554.90" y="318.50" width="1.4" height="1.4"/><rect x="557.60" y="318.82" width="1.4" height="1.4"/><rect x="560.30" y="319.19" width="1.4" height="1.4"/><rect x="563.00" y="319.48" width="1.4" height="1.4"/><rect x="546.80" y="320.56" width="1.4" height="1.4"/><rect x="549.50" y="321.24" width="1.4" height="1.4"/><rect x="552.20" y="321.46" width="1.4" height="1.4"/><rect x="554.90" y="321.96" width="1.4" height="1.4"/><rect x="557.60" y="322.04" width="1.4" height="1.4"/><rect x="560.30" y="322.42" width="1.4" height="1.4"/><rect x="563.00" y="322.76" width="1.4" height="1.4"/><rect x="549.50" y="326.83" width="1.4" height="1.4"/><rect x="552.20" y="327.20" width="1.4" height="1.4"/><rect x="554.90" y="327.38" width="1.4" height="1.4"/><rect x="557.60" y="327.56" width="1.4" height="1.4"/><rect x="560.30" y="328.49" width="1.4" height="1.4"/><rect x="552.20" y="330.39" width="1.4" height="1.4"/><rect x="554.90" y="331.16" width="1.4" height="1.4"/><rect x="557.60" y="331.50" width="1.4" height="1.4"/><rect x="553.55" y="334.19" width="1.4" height="1.4"/><rect x="556.25" y="334.98" width="1.4" height="1.4"/><rect x="554.90" y="337.10" width="1.4" height="1.4"/><rect x="554.90" y="344.50" width="1.4" height="1.4"/><rect x="554.90" y="356.60" width="1.4" height="1.4"/><rect x="554.90" y="359.20" width="1.4" height="1.4"/></g><g stroke="#1f7cf2"><line x1="547.90" y1="314.30" x2="563.30" y2="314.30" stroke-width="1.8"/><line x1="555.60" y1="298.40" x2="555.60" y2="329.50" stroke-width="1"/><line x1="552.00" y1="298.40" x2="559.20" y2="298.40" stroke-width="1.1"/><line x1="552.00" y1="329.50" x2="559.20" y2="329.50" stroke-width="1.1"/></g>
<g fill="#111"><rect x="571.05" y="282.00" width="1.4" height="1.4"/><rect x="573.75" y="283.62" width="1.4" height="1.4"/><rect x="572.40" y="285.19" width="1.4" height="1.4"/><rect x="571.05" y="289.28" width="1.4" height="1.4"/><rect x="573.75" y="290.95" width="1.4" height="1.4"/><rect x="569.70" y="294.68" width="1.4" height="1.4"/><rect x="572.40" y="296.08" width="1.4" height="1.4"/><rect x="575.10" y="296.43" width="1.4" height="1.4"/><rect x="571.05" y="297.16" width="1.4" height="1.4"/><rect x="573.75" y="299.31" width="1.4" height="1.4"/><rect x="568.35" y="300.11" width="1.4" height="1.4"/><rect x="571.05" y="300.65" width="1.4" height="1.4"/><rect x="573.75" y="301.31" width="1.4" height="1.4"/><rect x="576.45" y="301.45" width="1.4" height="1.4"/><rect x="569.70" y="302.41" width="1.4" height="1.4"/><rect x="572.40" y="302.67" width="1.4" height="1.4"/><rect x="575.10" y="304.29" width="1.4" height="1.4"/><rect x="568.35" y="304.95" width="1.4" height="1.4"/><rect x="571.05" y="306.15" width="1.4" height="1.4"/><rect x="573.75" y="306.22" width="1.4" height="1.4"/><rect x="576.45" y="306.24" width="1.4" height="1.4"/><rect x="567.00" y="308.06" width="1.4" height="1.4"/><rect x="569.70" y="308.47" width="1.4" height="1.4"/><rect x="572.40" y="308.65" width="1.4" height="1.4"/><rect x="575.10" y="309.46" width="1.4" height="1.4"/><rect x="577.80" y="310.25" width="1.4" height="1.4"/><rect x="569.70" y="310.34" width="1.4" height="1.4"/><rect x="572.40" y="312.38" width="1.4" height="1.4"/><rect x="575.10" y="312.43" width="1.4" height="1.4"/><rect x="571.05" y="312.76" width="1.4" height="1.4"/><rect x="573.75" y="314.60" width="1.4" height="1.4"/><rect x="569.70" y="315.61" width="1.4" height="1.4"/><rect x="572.40" y="315.80" width="1.4" height="1.4"/><rect x="575.10" y="315.87" width="1.4" height="1.4"/><rect x="567.00" y="318.79" width="1.4" height="1.4"/><rect x="569.70" y="318.92" width="1.4" height="1.4"/><rect x="572.40" y="319.27" width="1.4" height="1.4"/><rect x="575.10" y="320.40" width="1.4" height="1.4"/><rect x="577.80" y="320.49" width="1.4" height="1.4"/><rect x="571.05" y="321.39" width="1.4" height="1.4"/><rect x="573.75" y="322.48" width="1.4" height="1.4"/><rect x="572.40" y="328.54" width="1.4" height="1.4"/><rect x="571.05" y="332.58" width="1.4" height="1.4"/><rect x="573.75" y="332.81" width="1.4" height="1.4"/><rect x="572.40" y="335.60" width="1.4" height="1.4"/><rect x="572.40" y="343.20" width="1.4" height="1.4"/></g><g stroke="#111"><line x1="565.40" y1="313.50" x2="580.80" y2="313.50" stroke-width="1.8"/><line x1="573.10" y1="298.40" x2="573.10" y2="328.70" stroke-width="1"/><line x1="569.50" y1="298.40" x2="576.70" y2="298.40" stroke-width="1.1"/><line x1="569.50" y1="328.70" x2="576.70" y2="328.70" stroke-width="1.1"/></g>
<g fill="#1f7cf2"><rect x="595.35" y="286.50" width="1.4" height="1.4"/><rect x="598.05" y="286.57" width="1.4" height="1.4"/><rect x="600.75" y="287.03" width="1.4" height="1.4"/><rect x="603.45" y="287.57" width="1.4" height="1.4"/><rect x="598.05" y="290.35" width="1.4" height="1.4"/><rect x="600.75" y="291.50" width="1.4" height="1.4"/><rect x="596.70" y="294.03" width="1.4" height="1.4"/><rect x="599.40" y="295.21" width="1.4" height="1.4"/><rect x="602.10" y="296.07" width="1.4" height="1.4"/><rect x="598.05" y="298.08" width="1.4" height="1.4"/><rect x="600.75" y="298.73" width="1.4" height="1.4"/><rect x="595.35" y="301.13" width="1.4" height="1.4"/><rect x="598.05" y="301.50" width="1.4" height="1.4"/><rect x="600.75" y="302.10" width="1.4" height="1.4"/><rect x="603.45" y="302.53" width="1.4" height="1.4"/><rect x="595.35" y="304.07" width="1.4" height="1.4"/><rect x="598.05" y="304.89" width="1.4" height="1.4"/><rect x="600.75" y="305.96" width="1.4" height="1.4"/><rect x="603.45" y="306.11" width="1.4" height="1.4"/><rect x="596.70" y="308.07" width="1.4" height="1.4"/><rect x="599.40" y="308.38" width="1.4" height="1.4"/><rect x="602.10" y="309.46" width="1.4" height="1.4"/><rect x="594.00" y="311.01" width="1.4" height="1.4"/><rect x="596.70" y="311.26" width="1.4" height="1.4"/><rect x="599.40" y="312.38" width="1.4" height="1.4"/><rect x="602.10" y="312.72" width="1.4" height="1.4"/><rect x="604.80" y="312.82" width="1.4" height="1.4"/><rect x="595.35" y="313.22" width="1.4" height="1.4"/><rect x="598.05" y="314.53" width="1.4" height="1.4"/><rect x="600.75" y="314.61" width="1.4" height="1.4"/><rect x="603.45" y="314.99" width="1.4" height="1.4"/><rect x="598.05" y="316.38" width="1.4" height="1.4"/><rect x="600.75" y="316.98" width="1.4" height="1.4"/><rect x="598.05" y="318.96" width="1.4" height="1.4"/><rect x="600.75" y="321.03" width="1.4" height="1.4"/><rect x="596.70" y="321.39" width="1.4" height="1.4"/><rect x="599.40" y="322.78" width="1.4" height="1.4"/><rect x="602.10" y="323.54" width="1.4" height="1.4"/><rect x="594.00" y="324.22" width="1.4" height="1.4"/><rect x="596.70" y="324.26" width="1.4" height="1.4"/><rect x="599.40" y="324.27" width="1.4" height="1.4"/><rect x="602.10" y="324.98" width="1.4" height="1.4"/><rect x="604.80" y="325.62" width="1.4" height="1.4"/><rect x="596.70" y="326.68" width="1.4" height="1.4"/><rect x="599.40" y="328.09" width="1.4" height="1.4"/><rect x="602.10" y="328.46" width="1.4" height="1.4"/><rect x="595.35" y="329.06" width="1.4" height="1.4"/><rect x="598.05" y="329.47" width="1.4" height="1.4"/><rect x="600.75" y="329.88" width="1.4" height="1.4"/><rect x="603.45" y="330.46" width="1.4" height="1.4"/><rect x="598.05" y="331.60" width="1.4" height="1.4"/><rect x="600.75" y="331.68" width="1.4" height="1.4"/><rect x="595.35" y="334.72" width="1.4" height="1.4"/><rect x="598.05" y="335.29" width="1.4" height="1.4"/><rect x="600.75" y="335.68" width="1.4" height="1.4"/><rect x="603.45" y="335.94" width="1.4" height="1.4"/><rect x="596.70" y="339.70" width="1.4" height="1.4"/><rect x="599.40" y="341.04" width="1.4" height="1.4"/><rect x="602.10" y="341.89" width="1.4" height="1.4"/><rect x="596.70" y="346.30" width="1.4" height="1.4"/><rect x="599.40" y="347.56" width="1.4" height="1.4"/><rect x="602.10" y="347.67" width="1.4" height="1.4"/><rect x="599.40" y="351.06" width="1.4" height="1.4"/><rect x="599.40" y="357.90" width="1.4" height="1.4"/></g><g stroke="#1f7cf2"><line x1="592.40" y1="317.60" x2="607.80" y2="317.60" stroke-width="1.8"/><line x1="600.10" y1="300.40" x2="600.10" y2="335.30" stroke-width="1"/><line x1="596.50" y1="300.40" x2="603.70" y2="300.40" stroke-width="1.1"/><line x1="596.50" y1="335.30" x2="603.70" y2="335.30" stroke-width="1.1"/></g>
<g fill="#111"><rect x="617.10" y="283.20" width="1.4" height="1.4"/><rect x="615.75" y="285.75" width="1.4" height="1.4"/><rect x="618.45" y="286.01" width="1.4" height="1.4"/><rect x="617.10" y="288.47" width="1.4" height="1.4"/><rect x="613.05" y="290.70" width="1.4" height="1.4"/><rect x="615.75" y="291.70" width="1.4" height="1.4"/><rect x="618.45" y="292.58" width="1.4" height="1.4"/><rect x="621.15" y="292.67" width="1.4" height="1.4"/><rect x="613.05" y="293.53" width="1.4" height="1.4"/><rect x="615.75" y="294.03" width="1.4" height="1.4"/><rect x="618.45" y="294.51" width="1.4" height="1.4"/><rect x="621.15" y="295.26" width="1.4" height="1.4"/><rect x="615.75" y="297.01" width="1.4" height="1.4"/><rect x="618.45" y="297.83" width="1.4" height="1.4"/><rect x="614.40" y="300.44" width="1.4" height="1.4"/><rect x="617.10" y="301.63" width="1.4" height="1.4"/><rect x="619.80" y="301.95" width="1.4" height="1.4"/><rect x="617.10" y="303.38" width="1.4" height="1.4"/><rect x="613.05" y="306.99" width="1.4" height="1.4"/><rect x="615.75" y="307.30" width="1.4" height="1.4"/><rect x="618.45" y="308.13" width="1.4" height="1.4"/><rect x="621.15" y="308.17" width="1.4" height="1.4"/><rect x="617.10" y="310.30" width="1.4" height="1.4"/><rect x="613.05" y="313.26" width="1.4" height="1.4"/><rect x="615.75" y="314.16" width="1.4" height="1.4"/><rect x="618.45" y="314.35" width="1.4" height="1.4"/><rect x="621.15" y="314.80" width="1.4" height="1.4"/><rect x="615.75" y="315.74" width="1.4" height="1.4"/><rect x="618.45" y="316.75" width="1.4" height="1.4"/><rect x="617.10" y="321.05" width="1.4" height="1.4"/><rect x="614.40" y="324.69" width="1.4" height="1.4"/><rect x="617.10" y="325.05" width="1.4" height="1.4"/><rect x="619.80" y="325.62" width="1.4" height="1.4"/><rect x="610.35" y="327.71" width="1.4" height="1.4"/><rect x="613.05" y="327.75" width="1.4" height="1.4"/><rect x="615.75" y="327.87" width="1.4" height="1.4"/><rect x="618.45" y="328.09" width="1.4" height="1.4"/><rect x="621.15" y="328.78" width="1.4" height="1.4"/><rect x="623.85" y="328.94" width="1.4" height="1.4"/><rect x="614.40" y="333.92" width="1.4" height="1.4"/><rect x="617.10" y="333.94" width="1.4" height="1.4"/><rect x="619.80" y="334.26" width="1.4" height="1.4"/><rect x="615.75" y="336.52" width="1.4" height="1.4"/><rect x="618.45" y="337.70" width="1.4" height="1.4"/><rect x="617.10" y="344.70" width="1.4" height="1.4"/><rect x="617.10" y="360.40" width="1.4" height="1.4"/></g><g stroke="#111"><line x1="610.10" y1="310.00" x2="625.50" y2="310.00" stroke-width="1.8"/><line x1="617.80" y1="294.00" x2="617.80" y2="326.20" stroke-width="1"/><line x1="614.20" y1="294.00" x2="621.40" y2="294.00" stroke-width="1.1"/><line x1="614.20" y1="326.20" x2="621.40" y2="326.20" stroke-width="1.1"/></g>
<ellipse cx="139.4" cy="82.9" rx="1.15" ry="1.0" fill="#1a1a1a"/>
<ellipse cx="142.7" cy="82.9" rx="1.15" ry="1.0" fill="#1a1a1a"/>
<ellipse cx="146.0" cy="82.9" rx="1.15" ry="1.0" fill="#1a1a1a"/>
<line x1="114.00" y1="92.80" x2="136.80" y2="92.80" stroke="#333" stroke-width="1.3"/>
<line x1="114.00" y1="90.10" x2="114.00" y2="95.80" stroke="#333" stroke-width="1.1"/>
<line x1="136.80" y1="90.10" x2="136.80" y2="95.80" stroke="#333" stroke-width="1.1"/>
<ellipse cx="267.6" cy="107.9" rx="1.15" ry="1.0" fill="#1a1a1a"/>
<line x1="246.00" y1="118.40" x2="269.60" y2="118.40" stroke="#333" stroke-width="1.3"/>
<line x1="246.00" y1="115.60" x2="246.00" y2="121.70" stroke="#333" stroke-width="1.1"/>
<line x1="269.60" y1="115.60" x2="269.60" y2="121.70" stroke="#333" stroke-width="1.1"/>
<ellipse cx="487.1" cy="51.0" rx="1.15" ry="1.0" fill="#1a1a1a"/>
<ellipse cx="490.5" cy="51.0" rx="1.15" ry="1.0" fill="#1a1a1a"/>
<ellipse cx="494.0" cy="51.0" rx="1.15" ry="1.0" fill="#1a1a1a"/>
<line x1="461.10" y1="61.60" x2="484.80" y2="61.60" stroke="#333" stroke-width="1.3"/>
<line x1="461.10" y1="58.50" x2="461.10" y2="64.70" stroke="#333" stroke-width="1.1"/>
<line x1="484.80" y1="58.50" x2="484.80" y2="64.70" stroke="#333" stroke-width="1.1"/>
<ellipse cx="136.9" cy="250.6" rx="1.15" ry="1.0" fill="#1a1a1a"/>
<ellipse cx="140.1" cy="250.6" rx="1.15" ry="1.0" fill="#1a1a1a"/>
<ellipse cx="143.5" cy="250.6" rx="1.15" ry="1.0" fill="#1a1a1a"/>
<line x1="111.70" y1="260.60" x2="134.80" y2="260.60" stroke="#333" stroke-width="1.3"/>
<line x1="111.70" y1="257.70" x2="111.70" y2="263.80" stroke="#333" stroke-width="1.1"/>
<line x1="134.80" y1="257.70" x2="134.80" y2="263.80" stroke="#333" stroke-width="1.1"/>
<ellipse cx="266.0" cy="276.4" rx="1.15" ry="1.0" fill="#1a1a1a"/>
<line x1="242.20" y1="286.50" x2="264.60" y2="286.50" stroke="#333" stroke-width="1.3"/>
<line x1="242.20" y1="283.80" x2="242.20" y2="289.60" stroke="#333" stroke-width="1.1"/>
<line x1="264.60" y1="283.80" x2="264.60" y2="289.60" stroke="#333" stroke-width="1.1"/>
<ellipse cx="488.6" cy="254.9" rx="1.15" ry="1.0" fill="#1a1a1a"/>
<ellipse cx="491.9" cy="254.9" rx="1.15" ry="1.0" fill="#1a1a1a"/>
<ellipse cx="495.3" cy="254.9" rx="1.15" ry="1.0" fill="#1a1a1a"/>
<line x1="462.70" y1="265.50" x2="485.90" y2="265.50" stroke="#333" stroke-width="1.3"/>
<line x1="462.70" y1="262.60" x2="462.70" y2="268.50" stroke="#333" stroke-width="1.1"/>
<line x1="485.90" y1="262.60" x2="485.90" y2="268.50" stroke="#333" stroke-width="1.1"/>
<ellipse cx="621.3" cy="263.9" rx="1.15" ry="1.0" fill="#1a1a1a"/>
<line x1="597.40" y1="275.80" x2="620.60" y2="275.80" stroke="#333" stroke-width="1.3"/>
<line x1="597.40" y1="273.20" x2="597.40" y2="278.80" stroke="#333" stroke-width="1.1"/>
<line x1="620.60" y1="273.20" x2="620.60" y2="278.80" stroke="#333" stroke-width="1.1"/>
<text x="0.687" y="13.166" font-size="14.898" fill="#111" stroke="#111" stroke-width="0.3" textLength="5.414" lengthAdjust="spacingAndGlyphs">a</text>
<text x="7.402" y="12.635" font-size="13.344" fill="#111" stroke="#111" stroke-width="0.3" textLength="3.323" lengthAdjust="spacingAndGlyphs">)</text>
<text x="353.132" y="12.220" font-size="15.146" fill="#111" stroke="#111" stroke-width="0.3" textLength="9.373" lengthAdjust="spacingAndGlyphs">b</text>
<text x="362.402" y="11.367" font-size="13.864" fill="#111" stroke="#111" stroke-width="0.3" textLength="3.323" lengthAdjust="spacingAndGlyphs">)</text>
<text x="1.436" y="223.560" font-size="15.511" fill="#111" stroke="#111" stroke-width="0.3" textLength="7.787" lengthAdjust="spacingAndGlyphs">c</text>
<text x="10.052" y="222.756" font-size="14.186" fill="#111" stroke="#111" stroke-width="0.3" textLength="3.098" lengthAdjust="spacingAndGlyphs">)</text>
<text x="353.428" y="223.224" font-size="14.886" fill="#111" stroke="#111" stroke-width="0.3" textLength="8.714" lengthAdjust="spacingAndGlyphs">d</text>
<text x="362.461" y="222.419" font-size="13.866" fill="#111" stroke="#111" stroke-width="0.3" textLength="3.149" lengthAdjust="spacingAndGlyphs">)</text>
<text x="284.150" y="18.792" font-size="11.274" fill="#3b8bf4" textLength="46.154" lengthAdjust="spacingAndGlyphs">ASD group</text>
<text x="285.298" y="29.507" font-size="10.942" fill="#333" textLength="39.209" lengthAdjust="spacingAndGlyphs">TD group</text>
<text x="635.099" y="12.988" font-size="11.275" fill="#3b8bf4" textLength="46.857" lengthAdjust="spacingAndGlyphs">ASD group</text>
<text x="635.746" y="23.182" font-size="11.495" fill="#333" textLength="41.061" lengthAdjust="spacingAndGlyphs">TD group</text>
<text x="282.698" y="226.517" font-size="10.679" fill="#3b8bf4" textLength="45.158" lengthAdjust="spacingAndGlyphs">ASD group</text>
<text x="283.299" y="237.018" font-size="10.168" fill="#333" textLength="39.358" lengthAdjust="spacingAndGlyphs">TD group</text>
<text x="638.000" y="221.054" font-size="10.721" fill="#3b8bf4" textLength="46.857" lengthAdjust="spacingAndGlyphs">ASD group</text>
<text x="638.597" y="231.837" font-size="11.053" fill="#333" textLength="40.358" lengthAdjust="spacingAndGlyphs">TD group</text>
<text x="0" y="0" font-size="12.000" fill="#333" textLength="18.514" lengthAdjust="spacingAndGlyphs" transform="translate(25.500,103.109) rotate(-90)">GEV</text>
<text x="0" y="0" font-size="11.892" fill="#333" textLength="81.622" lengthAdjust="spacingAndGlyphs" transform="translate(374.712,133.212) rotate(-90)">Mean Duration (ms)</text>
<text x="0" y="0" font-size="10.270" fill="#333" textLength="79.705" lengthAdjust="spacingAndGlyphs" transform="translate(28.297,341.201) rotate(-90)">Time Coverage (%)</text>
<text x="0" y="0" font-size="10.433" fill="#333" textLength="70.566" lengthAdjust="spacingAndGlyphs" transform="translate(380.567,334.007) rotate(-90)">Occurrence (s&#8211;1)</text>
<text x="64.923" y="182.687" font-size="11.025" fill="#333" textLength="26.732" lengthAdjust="spacingAndGlyphs">Map A</text>
<text x="113.561" y="182.548" font-size="10.968" fill="#333" textLength="26.018" lengthAdjust="spacingAndGlyphs">Map B</text>
<text x="154.216" y="182.668" font-size="10.901" fill="#333" textLength="26.751" lengthAdjust="spacingAndGlyphs">Map C</text>
<text x="198.218" y="182.410" font-size="10.912" fill="#333" textLength="26.395" lengthAdjust="spacingAndGlyphs">Map D</text>
<text x="243.064" y="182.548" font-size="10.968" fill="#333" textLength="26.055" lengthAdjust="spacingAndGlyphs">Map E</text>
<text x="413.768" y="182.701" font-size="10.525" fill="#333" textLength="27.633" lengthAdjust="spacingAndGlyphs">Map A</text>
<text x="464.216" y="182.701" font-size="10.525" fill="#333" textLength="26.960" lengthAdjust="spacingAndGlyphs">Map B</text>
<text x="505.715" y="182.726" font-size="10.408" fill="#333" textLength="28.455" lengthAdjust="spacingAndGlyphs">Map C</text>
<text x="551.214" y="182.701" font-size="10.525" fill="#333" textLength="27.353" lengthAdjust="spacingAndGlyphs">Map D</text>
<text x="597.415" y="182.677" font-size="10.636" fill="#333" textLength="27.156" lengthAdjust="spacingAndGlyphs">Map E</text>
<text x="65.732" y="388.359" font-size="10.971" fill="#333" textLength="26.518" lengthAdjust="spacingAndGlyphs">Map A</text>
<text x="113.716" y="388.299" font-size="11.024" fill="#333" textLength="26.250" lengthAdjust="spacingAndGlyphs">Map B</text>
<text x="154.218" y="388.359" font-size="10.734" fill="#333" textLength="26.395" lengthAdjust="spacingAndGlyphs">Map C</text>
<text x="197.571" y="388.299" font-size="11.024" fill="#333" textLength="26.042" lengthAdjust="spacingAndGlyphs">Map D</text>
<text x="242.275" y="388.299" font-size="11.024" fill="#333" textLength="25.189" lengthAdjust="spacingAndGlyphs">Map E</text>
<text x="414.176" y="388.809" font-size="11.193" fill="#333" textLength="27.824" lengthAdjust="spacingAndGlyphs">Map A</text>
<text x="464.013" y="388.819" font-size="11.139" fill="#333" textLength="27.618" lengthAdjust="spacingAndGlyphs">Map B</text>
<text x="506.213" y="388.861" font-size="10.903" fill="#333" textLength="27.812" lengthAdjust="spacingAndGlyphs">Map C</text>
<text x="551.212" y="388.809" font-size="11.193" fill="#333" textLength="27.313" lengthAdjust="spacingAndGlyphs">Map D</text>
<text x="598.064" y="388.809" font-size="11.193" fill="#333" textLength="26.055" lengthAdjust="spacingAndGlyphs">Map E</text>
<text x="111.202" y="86.639" font-size="7.656" fill="#3a3a3a" font-style="italic" textLength="26.658" lengthAdjust="spacingAndGlyphs">p&lt;0.0001</text>
<text x="243.553" y="112.207" font-size="7.319" fill="#3a3a3a" font-style="italic" textLength="22.807" lengthAdjust="spacingAndGlyphs">p=0.031</text>
<text x="458.402" y="55.776" font-size="6.981" fill="#3a3a3a" font-style="italic" textLength="27.103" lengthAdjust="spacingAndGlyphs">p&lt;0.0001</text>
<text x="108.952" y="254.965" font-size="6.532" fill="#3a3a3a" font-style="italic" textLength="26.557" lengthAdjust="spacingAndGlyphs">p&lt;0.0001</text>
<text x="240.599" y="280.995" font-size="6.930" fill="#3a3a3a" font-style="italic" textLength="23.453" lengthAdjust="spacingAndGlyphs">p=0.034</text>
<text x="459.400" y="259.488" font-size="6.652" fill="#3a3a3a" font-style="italic" textLength="27.063" lengthAdjust="spacingAndGlyphs">p&lt;0.0001</text>
<text x="595.650" y="268.187" font-size="6.930" fill="#3a3a3a" font-style="italic" textLength="24.000" lengthAdjust="spacingAndGlyphs">p=0.019</text>
<text x="36.222" y="18.748" font-size="10.142" fill="#333" textLength="12.803" lengthAdjust="spacingAndGlyphs">0.5</text>
<text x="36.280" y="50.000" font-size="10.790" fill="#333" textLength="12.483" lengthAdjust="spacingAndGlyphs">0.4</text>
<text x="36.177" y="80.596" font-size="10.207" fill="#333" textLength="12.588" lengthAdjust="spacingAndGlyphs">0.3</text>
<text x="36.372" y="111.794" font-size="10.646" fill="#333" textLength="12.660" lengthAdjust="spacingAndGlyphs">0.2</text>
<text x="36.270" y="142.500" font-size="10.790" fill="#333" textLength="12.766" lengthAdjust="spacingAndGlyphs">0.1</text>
<text x="36.276" y="173.438" font-size="10.785" fill="#333" textLength="12.486" lengthAdjust="spacingAndGlyphs">0.0</text>
<text x="382.181" y="16.500" font-size="10.571" fill="#333" textLength="15.511" lengthAdjust="spacingAndGlyphs">120</text>
<text x="381.561" y="55.301" font-size="10.071" fill="#333" textLength="16.071" lengthAdjust="spacingAndGlyphs">100</text>
<text x="386.116" y="94.560" font-size="10.303" fill="#333" textLength="11.472" lengthAdjust="spacingAndGlyphs">80</text>
<text x="386.165" y="133.394" font-size="10.207" fill="#333" textLength="11.524" lengthAdjust="spacingAndGlyphs">60</text>
<text x="386.391" y="172.699" font-size="10.646" fill="#333" textLength="11.185" lengthAdjust="spacingAndGlyphs">40</text>
<text x="37.456" y="228.245" font-size="10.207" fill="#333" textLength="11.524" lengthAdjust="spacingAndGlyphs">50</text>
<text x="37.735" y="258.447" font-size="10.207" fill="#333" textLength="11.236" lengthAdjust="spacingAndGlyphs">40</text>
<text x="37.456" y="288.394" font-size="10.207" fill="#333" textLength="11.524" lengthAdjust="spacingAndGlyphs">30</text>
<text x="37.456" y="318.596" font-size="10.207" fill="#333" textLength="11.524" lengthAdjust="spacingAndGlyphs">20</text>
<text x="39.041" y="348.678" font-size="10.473" fill="#333" textLength="9.803" lengthAdjust="spacingAndGlyphs">10</text>
<text x="42.510" y="378.636" font-size="10.352" fill="#333" textLength="6.672" lengthAdjust="spacingAndGlyphs">0</text>
<text x="391.620" y="221.294" font-size="10.571" fill="#333" textLength="5.760" lengthAdjust="spacingAndGlyphs">5</text>
<text x="391.272" y="253.000" font-size="10.790" fill="#333" textLength="5.955" lengthAdjust="spacingAndGlyphs">4</text>
<text x="391.551" y="284.794" font-size="10.646" fill="#333" textLength="5.898" lengthAdjust="spacingAndGlyphs">3</text>
<text x="391.551" y="316.206" font-size="10.646" fill="#333" textLength="5.898" lengthAdjust="spacingAndGlyphs">2</text>
<text x="393.273" y="348.000" font-size="10.790" fill="#333" textLength="4.033" lengthAdjust="spacingAndGlyphs">1</text>
<text x="390.786" y="379.314" font-size="10.090" fill="#333" textLength="6.752" lengthAdjust="spacingAndGlyphs">0</text>
<line x1="16.00" y1="194.30" x2="306.60" y2="194.30" stroke="#6e6e6e" stroke-width="1.3"/>
<line x1="377.20" y1="194.30" x2="667.70" y2="194.30" stroke="#6e6e6e" stroke-width="1.3"/>
<line x1="341.90" y1="33.70" x2="341.90" y2="355.40" stroke="#858585" stroke-width="1.6"/>
</svg></body></html>
